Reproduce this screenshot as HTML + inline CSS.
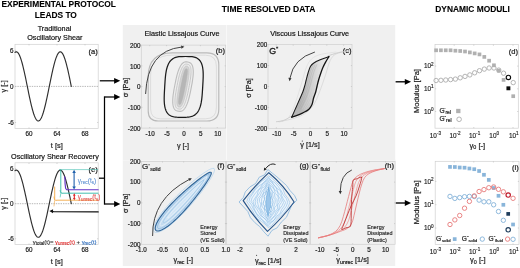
<!DOCTYPE html>
<html><head><meta charset="utf-8"><style>
html,body{margin:0;padding:0;background:#fff;width:520px;height:268px;overflow:hidden}
svg{display:block;font-family:"Liberation Sans", sans-serif;filter:blur(0.35px)}
</style></head><body>
<svg xmlns="http://www.w3.org/2000/svg" width="520" height="268" viewBox="0 0 520 268">
<rect x="0" y="0" width="520" height="268" fill="#ffffff"/>
<rect x="122.80" y="25.00" width="272.40" height="241.00" fill="#f0f0f0" stroke="none" stroke-width="1"/>
<line x1="226.40" y1="25.00" x2="226.40" y2="161.00" stroke="#fafafa" stroke-width="0.8"/>
<line x1="123.00" y1="160.30" x2="396.00" y2="160.30" stroke="#f6f6f6" stroke-width="0.9"/>
<text x="58.70" y="7.00" font-size="8.4" text-anchor="middle" fill="#000" font-weight="bold" stroke="#000" stroke-width="0.1">EXPERIMENTAL PROTOCOL</text>
<text x="55.80" y="17.60" font-size="8.4" text-anchor="middle" fill="#000" font-weight="bold" stroke="#000" stroke-width="0.1">LEADS TO</text>
<text x="268.60" y="12.40" font-size="8.5" text-anchor="middle" fill="#000" font-weight="bold" stroke="#000" stroke-width="0.1">TIME RESOLVED DATA</text>
<text x="472.50" y="12.20" font-size="8.4" text-anchor="middle" fill="#000" font-weight="bold" stroke="#000" stroke-width="0.1">DYNAMIC MODULI</text>
<text x="54.50" y="31.00" font-size="7.25" text-anchor="middle" fill="#111" font-weight="normal" stroke="#111" stroke-width="0.18">Traditional</text>
<text x="54.80" y="39.50" font-size="7.25" text-anchor="middle" fill="#111" font-weight="normal" stroke="#111" stroke-width="0.18">Oscillatory Shear</text>
<text x="55.00" y="158.60" font-size="7.25" text-anchor="middle" fill="#111" font-weight="normal" stroke="#111" stroke-width="0.18">Oscillatory Shear Recovery</text>
<text x="182.00" y="35.60" font-size="7.25" text-anchor="middle" fill="#111" font-weight="normal" stroke="#111" stroke-width="0.18">Elastic Lissajous Curve</text>
<text x="309.70" y="35.50" font-size="7.25" text-anchor="middle" fill="#111" font-weight="normal" stroke="#111" stroke-width="0.18">Viscous Lissajous Curve</text>
<rect x="15.00" y="44.30" width="83.20" height="84.20" fill="none" stroke="#cfcfcf" stroke-width="0.7"/>
<line x1="15.00" y1="86.40" x2="98.20" y2="86.40" stroke="#a0a0a0" stroke-width="0.75" stroke-dasharray="1.4,1.0"/>
<text x="13.50" y="52.51" font-size="6.3" text-anchor="end" fill="#1e1e1e" font-weight="normal" stroke="#1e1e1e" stroke-width="0.2">6</text>
<text x="13.50" y="88.60" font-size="6.3" text-anchor="end" fill="#1e1e1e" font-weight="normal" stroke="#1e1e1e" stroke-width="0.2">0</text>
<text x="13.80" y="124.69" font-size="6.3" text-anchor="end" fill="#1e1e1e" font-weight="normal" stroke="#1e1e1e" stroke-width="0.2">-6</text>
<text x="29.00" y="135.70" font-size="6.3" text-anchor="middle" fill="#1e1e1e" font-weight="normal" stroke="#1e1e1e" stroke-width="0.2">60</text>
<line x1="29.00" y1="128.50" x2="29.00" y2="127.40" stroke="#aaa" stroke-width="0.5"/>
<line x1="29.00" y1="44.30" x2="29.00" y2="45.40" stroke="#aaa" stroke-width="0.5"/>
<text x="57.00" y="135.70" font-size="6.3" text-anchor="middle" fill="#1e1e1e" font-weight="normal" stroke="#1e1e1e" stroke-width="0.2">64</text>
<line x1="57.00" y1="128.50" x2="57.00" y2="127.40" stroke="#aaa" stroke-width="0.5"/>
<line x1="57.00" y1="44.30" x2="57.00" y2="45.40" stroke="#aaa" stroke-width="0.5"/>
<text x="85.00" y="135.70" font-size="6.3" text-anchor="middle" fill="#1e1e1e" font-weight="normal" stroke="#1e1e1e" stroke-width="0.2">68</text>
<line x1="85.00" y1="128.50" x2="85.00" y2="127.40" stroke="#aaa" stroke-width="0.5"/>
<line x1="85.00" y1="44.30" x2="85.00" y2="45.40" stroke="#aaa" stroke-width="0.5"/>
<line x1="15.00" y1="50.31" x2="16.10" y2="50.31" stroke="#aaa" stroke-width="0.5"/>
<line x1="98.20" y1="50.31" x2="97.10" y2="50.31" stroke="#aaa" stroke-width="0.5"/>
<line x1="15.00" y1="122.49" x2="16.10" y2="122.49" stroke="#aaa" stroke-width="0.5"/>
<line x1="98.20" y1="122.49" x2="97.10" y2="122.49" stroke="#aaa" stroke-width="0.5"/>
<text x="0" y="0" font-size="7.3" text-anchor="middle" fill="#1e1e1e" stroke="#1e1e1e" stroke-width="0.22" transform="translate(6.13 86.40) rotate(-90)">γ [-]</text>
<text x="56.80" y="147.90" font-size="7.5" text-anchor="middle" fill="#1e1e1e" font-weight="normal" stroke="#1e1e1e" stroke-width="0.2">t [s]</text>
<text x="97.80" y="53.90" font-size="7.6" text-anchor="end" fill="#1a1a1a" font-weight="normal" stroke="#1a1a1a" stroke-width="0.2">(a)</text>
<path d="M15.00,52.42 L15.47,52.07 L15.94,51.87 L16.41,51.82 L16.88,51.93 L17.35,52.20 L17.81,52.62 L18.28,53.19 L18.75,53.90 L19.22,54.77 L19.69,55.78 L20.16,56.92 L20.63,58.20 L21.10,59.60 L21.57,61.12 L22.04,62.76 L22.50,64.50 L22.97,66.35 L23.44,68.28 L23.91,70.29 L24.38,72.37 L24.85,74.52 L25.32,76.72 L25.79,78.97 L26.26,81.25 L26.73,83.55 L27.19,85.86 L27.66,88.18 L28.13,90.48 L28.60,92.77 L29.07,95.04 L29.54,97.26 L30.01,99.43 L30.48,101.55 L30.95,103.59 L31.41,105.57 L31.88,107.45 L32.35,109.24 L32.82,110.93 L33.29,112.50 L33.76,113.96 L34.23,115.30 L34.70,116.51 L35.17,117.58 L35.64,118.51 L36.11,119.30 L36.57,119.94 L37.04,120.43 L37.51,120.76 L37.98,120.95 L38.45,120.97 L38.92,120.85 L39.39,120.56 L39.86,120.13 L40.33,119.54 L40.80,118.81 L41.26,117.93 L41.73,116.90 L42.20,115.74 L42.67,114.45 L43.14,113.04 L43.61,111.50 L44.08,109.85 L44.55,108.10 L45.02,106.25 L45.49,104.30 L45.95,102.28 L46.42,100.19 L46.89,98.04 L47.36,95.83 L47.83,93.58 L48.30,91.30 L48.77,89.00 L49.24,86.68 L49.71,84.37 L50.18,82.06 L50.64,79.77 L51.11,77.52 L51.58,75.30 L52.05,73.13 L52.52,71.02 L52.99,68.98 L53.46,67.02 L53.93,65.15 L54.40,63.37 L54.87,61.69 L55.33,60.13 L55.80,58.68 L56.27,57.36 L56.74,56.17 L57.21,55.11 L57.68,54.20 L58.15,53.42 L58.62,52.80 L59.09,52.33 L59.56,52.01 L60.02,51.84 L60.49,51.83 L60.96,51.98 L61.43,52.28 L61.90,52.73 L62.37,53.33 L62.84,54.08 L63.31,54.98 L63.78,56.02 L64.25,57.19 L64.71,58.50 L65.18,59.93 L65.65,61.48 L66.12,63.14 L66.59,64.90 L67.06,66.77 L67.53,68.72 L68.00,70.74 L68.47,72.84 L68.94,75.00 L69.40,77.22 L69.87,79.47 L70.34,81.75 L70.81,84.06 L71.28,86.37" stroke="#2e2e2e" stroke-width="1.15" fill="none" stroke-linejoin="round" stroke-linecap="round"/>
<rect x="15.00" y="162.80" width="83.20" height="81.80" fill="none" stroke="#cfcfcf" stroke-width="0.7"/>
<line x1="15.00" y1="203.70" x2="98.20" y2="203.70" stroke="#a0a0a0" stroke-width="0.75" stroke-dasharray="1.4,1.0"/>
<text x="13.50" y="170.84" font-size="6.3" text-anchor="end" fill="#1e1e1e" font-weight="normal" stroke="#1e1e1e" stroke-width="0.2">6</text>
<text x="13.50" y="205.90" font-size="6.3" text-anchor="end" fill="#1e1e1e" font-weight="normal" stroke="#1e1e1e" stroke-width="0.2">0</text>
<text x="13.80" y="240.96" font-size="6.3" text-anchor="end" fill="#1e1e1e" font-weight="normal" stroke="#1e1e1e" stroke-width="0.2">-6</text>
<text x="29.00" y="251.80" font-size="6.3" text-anchor="middle" fill="#1e1e1e" font-weight="normal" stroke="#1e1e1e" stroke-width="0.2">60</text>
<line x1="29.00" y1="244.60" x2="29.00" y2="243.50" stroke="#aaa" stroke-width="0.5"/>
<line x1="29.00" y1="162.80" x2="29.00" y2="163.90" stroke="#aaa" stroke-width="0.5"/>
<text x="57.00" y="251.80" font-size="6.3" text-anchor="middle" fill="#1e1e1e" font-weight="normal" stroke="#1e1e1e" stroke-width="0.2">64</text>
<line x1="57.00" y1="244.60" x2="57.00" y2="243.50" stroke="#aaa" stroke-width="0.5"/>
<line x1="57.00" y1="162.80" x2="57.00" y2="163.90" stroke="#aaa" stroke-width="0.5"/>
<text x="85.00" y="251.80" font-size="6.3" text-anchor="middle" fill="#1e1e1e" font-weight="normal" stroke="#1e1e1e" stroke-width="0.2">68</text>
<line x1="85.00" y1="244.60" x2="85.00" y2="243.50" stroke="#aaa" stroke-width="0.5"/>
<line x1="85.00" y1="162.80" x2="85.00" y2="163.90" stroke="#aaa" stroke-width="0.5"/>
<line x1="15.00" y1="168.64" x2="16.10" y2="168.64" stroke="#aaa" stroke-width="0.5"/>
<line x1="98.20" y1="168.64" x2="97.10" y2="168.64" stroke="#aaa" stroke-width="0.5"/>
<line x1="15.00" y1="238.76" x2="16.10" y2="238.76" stroke="#aaa" stroke-width="0.5"/>
<line x1="98.20" y1="238.76" x2="97.10" y2="238.76" stroke="#aaa" stroke-width="0.5"/>
<text x="0" y="0" font-size="7.3" text-anchor="middle" fill="#1e1e1e" stroke="#1e1e1e" stroke-width="0.22" transform="translate(6.13 203.70) rotate(-90)">γ [-]</text>
<text x="56.80" y="264.00" font-size="7.5" text-anchor="middle" fill="#1e1e1e" font-weight="normal" stroke="#1e1e1e" stroke-width="0.2">t [s]</text>
<text x="97.80" y="172.40" font-size="7.6" text-anchor="end" fill="#1a1a1a" font-weight="normal" stroke="#1a1a1a" stroke-width="0.2">(e)</text>
<path d="M15.00,170.69 L15.47,170.34 L15.94,170.15 L16.41,170.11 L16.88,170.21 L17.35,170.47 L17.81,170.88 L18.28,171.43 L18.75,172.13 L19.22,172.97 L19.69,173.95 L20.16,175.06 L20.63,176.30 L21.10,177.66 L21.57,179.15 L22.04,180.74 L22.50,182.43 L22.97,184.22 L23.44,186.09 L23.91,188.05 L24.38,190.07 L24.85,192.16 L25.32,194.30 L25.79,196.48 L26.26,198.69 L26.73,200.93 L27.19,203.18 L27.66,205.43 L28.13,207.67 L28.60,209.89 L29.07,212.09 L29.54,214.25 L30.01,216.36 L30.48,218.42 L30.95,220.40 L31.41,222.32 L31.88,224.15 L32.35,225.89 L32.82,227.53 L33.29,229.06 L33.76,230.48 L34.23,231.78 L34.70,232.95 L35.17,233.99 L35.64,234.89 L36.11,235.66 L36.57,236.28 L37.04,236.76 L37.51,237.08 L37.98,237.26 L38.45,237.29 L38.92,237.16 L39.39,236.89 L39.86,236.47 L40.33,235.90 L40.80,235.18 L41.26,234.33 L41.73,233.33 L42.20,232.21 L42.67,230.95 L43.14,229.58 L43.61,228.08 L44.08,226.48 L44.55,224.78 L45.02,222.98 L45.49,221.09 L45.95,219.13 L46.42,217.10 L46.89,215.01 L47.36,212.86 L47.83,210.68 L48.30,208.46 L48.77,206.22 L49.24,203.98 L49.71,201.73 L50.18,199.48 L50.64,197.26 L51.11,195.07 L51.58,192.92 L52.05,190.81 L52.52,188.76 L52.99,186.78 L53.46,184.87 L53.93,183.05 L54.40,181.33 L54.87,179.70 L55.33,178.18 L55.80,176.77 L56.27,175.49 L56.74,174.33 L57.21,173.30 L57.68,172.41 L58.15,171.66 L58.62,171.06 L59.09,170.60 L59.56,170.29 L60.02,170.13 L60.49,170.12 L60.96,170.26 L61.43,170.55 L61.90,170.99 L62.37,171.57 L62.84,172.30 L63.31,173.18 L63.78,174.18 L64.25,175.32 L64.71,176.59 L65.18,177.98 L65.65,179.49 L66.12,181.10 L66.59,182.82 L67.06,184.62 L67.53,186.52 L68.00,188.49 L68.47,190.53 L68.94,192.63 L69.40,194.78 L69.87,196.97 L70.34,199.19 L70.81,201.42 L71.28,203.67" stroke="#2e2e2e" stroke-width="1.15" fill="none" stroke-linejoin="round" stroke-linecap="round"/>
<line x1="59.00" y1="169.60" x2="98.20" y2="169.60" stroke="#5cc8bc" stroke-width="0.7"/>
<path d="M54.70,187.00 L54.70,199.20 L55.60,200.40 L57.00,200.20 L98.20,200.20" stroke="#f2a33a" stroke-width="0.85" fill="none" stroke-linejoin="round" stroke-linecap="round"/>
<path d="M53.90,197.00 L54.70,200.30 L54.00,206.00" stroke="#f2a33a" stroke-width="0.6" fill="none" stroke-linejoin="round" stroke-linecap="round"/>
<path d="M60.80,170.00 L60.80,191.80 L61.60,193.30 L63.00,193.20 L98.20,193.20" stroke="#22b5a0" stroke-width="0.85" fill="none" stroke-linejoin="round" stroke-linecap="round"/>
<path d="M60.10,190.50 L60.80,193.30 L60.20,197.00" stroke="#22b5a0" stroke-width="0.6" fill="none" stroke-linejoin="round" stroke-linecap="round"/>
<path d="M64.80,176.84 L65.10,184.00 L65.60,188.20 L66.60,189.70 L68.00,189.70 L98.20,189.70" stroke="#6432c8" stroke-width="1.15" fill="none" stroke-linejoin="round" stroke-linecap="round"/>
<path d="M51.50,211.30 L53.50,211.70 L98.20,211.90" stroke="#111" stroke-width="1.25" fill="none" stroke-linejoin="round" stroke-linecap="round"/>
<path d="M49.40,211.10 L53.07,209.25 L52.93,213.20 Z" fill="#111"/>
<line x1="74.10" y1="171.50" x2="74.10" y2="188.00" stroke="#2162ad" stroke-width="1.1"/>
<path d="M74.10,169.70 L75.86,172.90 L72.34,172.90 Z" fill="#2162ad"/>
<path d="M74.10,189.60 L72.34,186.40 L75.86,186.40 Z" fill="#2162ad"/>
<line x1="74.30" y1="194.50" x2="74.30" y2="199.00" stroke="#dd2020" stroke-width="1.1"/>
<path d="M74.30,193.30 L75.62,195.70 L72.98,195.70 Z" fill="#e02828"/>
<path d="M74.30,200.30 L72.98,197.90 L75.62,197.90 Z" fill="#e02828"/>
<text x="77.8" y="182.9" font-size="6.5" fill="#5b8fd0" stroke="#5b8fd0" stroke-width="0.08">γ<tspan font-size="4.8" dy="1.1">rec</tspan><tspan dy="-1.1">(t</tspan><tspan font-size="4.8" dy="1.1">s</tspan><tspan dy="-1.1">)</tspan></text>
<text x="77.8" y="199.4" font-size="6.3" fill="#e04848" stroke="#e04848" stroke-width="0.08">γ<tspan font-size="4.5" dy="1.1">unrec</tspan><tspan dy="-1.1">(t</tspan><tspan font-size="4.5" dy="1.1">s</tspan><tspan dy="-1.1">)</tspan></text>
<text x="32.8" y="244.0" font-size="5.95" fill="#262626" stroke="#262626" stroke-width="0.12">γ<tspan font-size="4.5" dy="1.1">total</tspan><tspan dy="-1.1">(t)=</tspan><tspan fill="#e02828" stroke="#e02828"> γ<tspan font-size="4.5" dy="1.1">unrec</tspan><tspan dy="-1.1">(t)</tspan></tspan><tspan> + </tspan><tspan fill="#2f6fbf" stroke="#2f6fbf">γ<tspan font-size="4.5" dy="1.1">rec</tspan><tspan dy="-1.1">(t)</tspan></tspan></text>
<line x1="99.80" y1="80.80" x2="115.00" y2="80.80" stroke="#000" stroke-width="1.25"/>
<path d="M120.30,80.80 L114.10,83.71 L114.10,77.89 Z" fill="#000"/>
<line x1="104.50" y1="97.00" x2="115.00" y2="97.00" stroke="#000" stroke-width="1.25"/>
<path d="M120.30,97.00 L114.10,99.91 L114.10,94.09 Z" fill="#000"/>
<line x1="104.50" y1="96.40" x2="104.50" y2="204.60" stroke="#000" stroke-width="1.25"/>
<line x1="99.00" y1="178.20" x2="104.50" y2="178.20" stroke="#000" stroke-width="1.25"/>
<line x1="104.50" y1="204.00" x2="115.00" y2="204.00" stroke="#000" stroke-width="1.25"/>
<path d="M120.30,204.00 L114.10,206.91 L114.10,201.09 Z" fill="#000"/>
<line x1="395.60" y1="81.80" x2="406.00" y2="81.80" stroke="#000" stroke-width="1.35"/>
<path d="M411.10,81.80 L404.80,84.70 L404.80,78.90 Z" fill="#000"/>
<line x1="395.60" y1="203.00" x2="406.00" y2="203.00" stroke="#000" stroke-width="1.35"/>
<path d="M411.10,203.00 L404.80,205.90 L404.80,200.10 Z" fill="#000"/>
<rect x="141.30" y="45.10" width="84.40" height="83.00" fill="none" stroke="#cfcfcf" stroke-width="0.7"/>
<text x="140.40" y="47.80" font-size="6.3" text-anchor="end" fill="#1e1e1e" font-weight="normal" stroke="#1e1e1e" stroke-width="0.2">200</text>
<text x="140.40" y="68.55" font-size="6.3" text-anchor="end" fill="#1e1e1e" font-weight="normal" stroke="#1e1e1e" stroke-width="0.2">100</text>
<text x="140.40" y="89.30" font-size="6.3" text-anchor="end" fill="#1e1e1e" font-weight="normal" stroke="#1e1e1e" stroke-width="0.2">0</text>
<text x="140.40" y="110.05" font-size="6.3" text-anchor="end" fill="#1e1e1e" font-weight="normal" stroke="#1e1e1e" stroke-width="0.2">-100</text>
<text x="140.40" y="130.80" font-size="6.3" text-anchor="end" fill="#1e1e1e" font-weight="normal" stroke="#1e1e1e" stroke-width="0.2">-200</text>
<line x1="141.30" y1="65.85" x2="142.40" y2="65.85" stroke="#b4b4b4" stroke-width="0.5"/>
<line x1="225.70" y1="65.85" x2="224.60" y2="65.85" stroke="#b4b4b4" stroke-width="0.5"/>
<line x1="141.30" y1="86.60" x2="142.40" y2="86.60" stroke="#b4b4b4" stroke-width="0.5"/>
<line x1="225.70" y1="86.60" x2="224.60" y2="86.60" stroke="#b4b4b4" stroke-width="0.5"/>
<line x1="141.30" y1="107.35" x2="142.40" y2="107.35" stroke="#b4b4b4" stroke-width="0.5"/>
<line x1="225.70" y1="107.35" x2="224.60" y2="107.35" stroke="#b4b4b4" stroke-width="0.5"/>
<text x="150.14" y="136.30" font-size="6.3" text-anchor="middle" fill="#1e1e1e" font-weight="normal" stroke="#1e1e1e" stroke-width="0.2">-10</text>
<text x="167.02" y="136.30" font-size="6.3" text-anchor="middle" fill="#1e1e1e" font-weight="normal" stroke="#1e1e1e" stroke-width="0.2">-5</text>
<text x="183.90" y="136.30" font-size="6.3" text-anchor="middle" fill="#1e1e1e" font-weight="normal" stroke="#1e1e1e" stroke-width="0.2">0</text>
<text x="200.78" y="136.30" font-size="6.3" text-anchor="middle" fill="#1e1e1e" font-weight="normal" stroke="#1e1e1e" stroke-width="0.2">5</text>
<text x="217.66" y="136.30" font-size="6.3" text-anchor="middle" fill="#1e1e1e" font-weight="normal" stroke="#1e1e1e" stroke-width="0.2">10</text>
<line x1="149.74" y1="128.10" x2="149.74" y2="127.00" stroke="#b4b4b4" stroke-width="0.5"/>
<line x1="149.74" y1="45.10" x2="149.74" y2="46.20" stroke="#b4b4b4" stroke-width="0.5"/>
<line x1="166.62" y1="128.10" x2="166.62" y2="127.00" stroke="#b4b4b4" stroke-width="0.5"/>
<line x1="166.62" y1="45.10" x2="166.62" y2="46.20" stroke="#b4b4b4" stroke-width="0.5"/>
<line x1="183.50" y1="128.10" x2="183.50" y2="127.00" stroke="#b4b4b4" stroke-width="0.5"/>
<line x1="183.50" y1="45.10" x2="183.50" y2="46.20" stroke="#b4b4b4" stroke-width="0.5"/>
<line x1="200.38" y1="128.10" x2="200.38" y2="127.00" stroke="#b4b4b4" stroke-width="0.5"/>
<line x1="200.38" y1="45.10" x2="200.38" y2="46.20" stroke="#b4b4b4" stroke-width="0.5"/>
<line x1="217.26" y1="128.10" x2="217.26" y2="127.00" stroke="#b4b4b4" stroke-width="0.5"/>
<line x1="217.26" y1="45.10" x2="217.26" y2="46.20" stroke="#b4b4b4" stroke-width="0.5"/>
<text x="0" y="0" font-size="7.3" text-anchor="middle" fill="#1e1e1e" stroke="#1e1e1e" stroke-width="0.22" transform="translate(127.73 87.40) rotate(-90)">σ [Pa]</text>
<text x="183.00" y="148.00" font-size="7.3" text-anchor="middle" fill="#1e1e1e" font-weight="normal" stroke="#1e1e1e" stroke-width="0.2">γ [-]</text>
<text x="225.00" y="53.20" font-size="7.6" text-anchor="end" fill="#1a1a1a" font-weight="normal" stroke="#1a1a1a" stroke-width="0.2">(b)</text>
<path d="M172.20,52.80 L206.80,52.80 Q218.80,52.80 218.80,64.80 L218.80,109.00 Q218.80,121.00 206.80,121.00 L158.20,121.00 Q148.20,121.00 148.20,111.00 L148.20,76.80 Q148.20,52.80 172.20,52.80 Z" stroke="#b9b9b9" stroke-width="1.15" fill="none"/>
<path d="M171.60,55.20 L205.40,55.20 Q216.40,55.20 216.40,66.20 L216.40,107.80 Q216.40,118.80 205.40,118.80 L160.60,118.80 Q150.60,118.80 150.60,108.80 L150.60,76.20 Q150.60,55.20 171.60,55.20 Z" stroke="#cfcfcf" stroke-width="0.6" fill="none"/>
<path d="M191.15,88.18 L190.56,91.17 L190.17,93.07 L189.81,94.69 L189.47,96.15 L189.13,97.49 L188.80,98.73 L188.47,99.90 L188.13,100.99 L187.79,102.02 L187.44,102.99 L187.09,103.90 L186.74,104.75 L186.38,105.55 L186.01,106.30 L185.64,107.00 L185.26,107.64 L184.87,108.23 L184.47,108.78 L184.07,109.27 L183.66,109.71 L183.24,110.10 L182.81,110.44 L182.37,110.73 L181.92,110.96 L181.45,111.14 L180.96,111.27 L180.44,111.35 L179.87,111.36 L179.23,111.31 L178.23,111.14 L177.24,110.92 L176.62,110.73 L176.11,110.50 L175.65,110.24 L175.24,109.94 L174.88,109.59 L174.54,109.20 L174.24,108.77 L173.97,108.30 L173.73,107.78 L173.51,107.22 L173.33,106.61 L173.16,105.96 L173.03,105.26 L172.92,104.52 L172.83,103.74 L172.77,102.91 L172.73,102.03 L172.72,101.10 L172.74,100.13 L172.78,99.10 L172.85,98.02 L172.95,96.88 L173.08,95.68 L173.24,94.40 L173.43,93.03 L173.66,91.55 L173.93,89.91 L174.28,88.00 L174.85,85.02 L175.44,82.03 L175.83,80.13 L176.19,78.51 L176.53,77.05 L176.87,75.71 L177.20,74.47 L177.53,73.30 L177.87,72.21 L178.21,71.18 L178.56,70.21 L178.91,69.30 L179.26,68.45 L179.62,67.65 L179.99,66.90 L180.36,66.20 L180.74,65.56 L181.13,64.97 L181.53,64.42 L181.93,63.93 L182.34,63.49 L182.76,63.10 L183.19,62.76 L183.63,62.47 L184.08,62.24 L184.55,62.06 L185.04,61.93 L185.56,61.85 L186.13,61.84 L186.77,61.89 L187.77,62.06 L188.76,62.28 L189.38,62.47 L189.89,62.70 L190.35,62.96 L190.76,63.26 L191.12,63.61 L191.46,64.00 L191.76,64.43 L192.03,64.90 L192.27,65.42 L192.49,65.98 L192.67,66.59 L192.84,67.24 L192.97,67.94 L193.08,68.68 L193.17,69.46 L193.23,70.29 L193.27,71.17 L193.28,72.10 L193.26,73.07 L193.22,74.10 L193.15,75.18 L193.05,76.32 L192.92,77.52 L192.76,78.80 L192.57,80.17 L192.34,81.65 L192.07,83.29 L191.72,85.20 Z" stroke="#bdbdbd" stroke-width="1.1" fill="#eeeeee" stroke-linejoin="round" stroke-linecap="round"/>
<path d="M188.89,87.74 L188.36,90.46 L188.00,92.20 L187.68,93.68 L187.38,95.02 L187.09,96.24 L186.80,97.38 L186.52,98.44 L186.23,99.44 L185.95,100.39 L185.66,101.27 L185.38,102.11 L185.09,102.90 L184.79,103.63 L184.50,104.32 L184.20,104.97 L183.90,105.56 L183.60,106.11 L183.29,106.62 L182.98,107.08 L182.66,107.49 L182.34,107.86 L182.02,108.18 L181.69,108.46 L181.35,108.69 L181.00,108.87 L180.64,109.00 L180.25,109.09 L179.84,109.12 L179.37,109.10 L178.65,108.98 L177.94,108.82 L177.49,108.67 L177.12,108.48 L176.80,108.26 L176.51,108.00 L176.26,107.70 L176.03,107.36 L175.82,106.98 L175.64,106.56 L175.48,106.10 L175.35,105.60 L175.23,105.05 L175.14,104.47 L175.06,103.85 L175.01,103.18 L174.97,102.47 L174.96,101.72 L174.96,100.93 L174.99,100.09 L175.03,99.21 L175.10,98.28 L175.19,97.30 L175.30,96.26 L175.44,95.17 L175.60,94.01 L175.79,92.76 L176.01,91.41 L176.27,89.92 L176.59,88.18 L177.11,85.46 L177.64,82.74 L178.00,81.00 L178.32,79.52 L178.62,78.18 L178.91,76.96 L179.20,75.82 L179.48,74.76 L179.77,73.76 L180.05,72.81 L180.34,71.93 L180.62,71.09 L180.91,70.30 L181.21,69.57 L181.50,68.88 L181.80,68.23 L182.10,67.64 L182.40,67.09 L182.71,66.58 L183.02,66.12 L183.34,65.71 L183.66,65.34 L183.98,65.02 L184.31,64.74 L184.65,64.51 L185.00,64.33 L185.36,64.20 L185.75,64.11 L186.16,64.08 L186.63,64.10 L187.35,64.22 L188.06,64.38 L188.51,64.53 L188.88,64.72 L189.20,64.94 L189.49,65.20 L189.74,65.50 L189.97,65.84 L190.18,66.22 L190.36,66.64 L190.52,67.10 L190.65,67.60 L190.77,68.15 L190.86,68.73 L190.94,69.35 L190.99,70.02 L191.03,70.73 L191.04,71.48 L191.04,72.27 L191.01,73.11 L190.97,73.99 L190.90,74.92 L190.81,75.90 L190.70,76.94 L190.56,78.03 L190.40,79.19 L190.21,80.44 L189.99,81.79 L189.73,83.28 L189.41,85.02 Z" stroke="#c4c4c4" stroke-width="0.9" fill="#eaeaea" stroke-linejoin="round" stroke-linecap="round"/>
<path d="M186.93,87.36 L186.44,89.84 L186.12,91.43 L185.84,92.78 L185.57,94.00 L185.32,95.12 L185.07,96.16 L184.83,97.14 L184.59,98.05 L184.36,98.92 L184.12,99.73 L183.89,100.50 L183.66,101.23 L183.43,101.90 L183.20,102.54 L182.97,103.14 L182.74,103.69 L182.51,104.20 L182.28,104.67 L182.04,105.10 L181.81,105.49 L181.58,105.84 L181.34,106.14 L181.11,106.41 L180.87,106.63 L180.62,106.81 L180.37,106.95 L180.11,107.04 L179.83,107.09 L179.51,107.09 L179.03,107.02 L178.56,106.91 L178.26,106.79 L178.02,106.64 L177.81,106.45 L177.63,106.23 L177.47,105.97 L177.33,105.67 L177.21,105.34 L177.11,104.97 L177.03,104.56 L176.96,104.11 L176.90,103.63 L176.86,103.10 L176.84,102.54 L176.84,101.94 L176.85,101.31 L176.87,100.63 L176.91,99.91 L176.97,99.16 L177.04,98.36 L177.13,97.51 L177.23,96.62 L177.35,95.68 L177.50,94.69 L177.66,93.63 L177.84,92.50 L178.05,91.27 L178.30,89.91 L178.59,88.32 L179.07,85.84 L179.56,83.36 L179.88,81.77 L180.16,80.42 L180.43,79.20 L180.68,78.08 L180.93,77.04 L181.17,76.06 L181.41,75.15 L181.64,74.28 L181.88,73.47 L182.11,72.70 L182.34,71.97 L182.57,71.30 L182.80,70.66 L183.03,70.06 L183.26,69.51 L183.49,69.00 L183.72,68.53 L183.96,68.10 L184.19,67.71 L184.42,67.36 L184.66,67.06 L184.89,66.79 L185.13,66.57 L185.38,66.39 L185.63,66.25 L185.89,66.16 L186.17,66.11 L186.49,66.11 L186.97,66.18 L187.44,66.29 L187.74,66.41 L187.98,66.56 L188.19,66.75 L188.37,66.97 L188.53,67.23 L188.67,67.53 L188.79,67.86 L188.89,68.23 L188.97,68.64 L189.04,69.09 L189.10,69.57 L189.14,70.10 L189.16,70.66 L189.16,71.26 L189.15,71.89 L189.13,72.57 L189.09,73.29 L189.03,74.04 L188.96,74.84 L188.87,75.69 L188.77,76.58 L188.65,77.52 L188.50,78.51 L188.34,79.57 L188.16,80.70 L187.95,81.93 L187.70,83.29 L187.41,84.88 Z" stroke="#c0c0c0" stroke-width="0.6" fill="#d3d3d3" stroke-linejoin="round" stroke-linecap="round"/>
<path d="M185.06,87.00 L184.64,89.17 L184.36,90.56 L184.12,91.75 L183.90,92.81 L183.69,93.79 L183.49,94.71 L183.29,95.57 L183.11,96.37 L182.92,97.13 L182.74,97.85 L182.57,98.53 L182.40,99.17 L182.23,99.77 L182.06,100.33 L181.90,100.86 L181.74,101.35 L181.58,101.81 L181.43,102.23 L181.27,102.62 L181.12,102.97 L180.97,103.28 L180.83,103.56 L180.68,103.80 L180.54,104.01 L180.40,104.18 L180.25,104.32 L180.11,104.41 L179.95,104.48 L179.78,104.50 L179.53,104.47 L179.28,104.40 L179.13,104.32 L179.01,104.20 L178.91,104.06 L178.83,103.88 L178.76,103.66 L178.70,103.42 L178.66,103.14 L178.63,102.82 L178.61,102.48 L178.60,102.10 L178.60,101.68 L178.62,101.23 L178.64,100.75 L178.68,100.24 L178.73,99.68 L178.78,99.10 L178.85,98.48 L178.93,97.82 L179.02,97.13 L179.13,96.39 L179.24,95.62 L179.37,94.80 L179.51,93.94 L179.67,93.01 L179.84,92.02 L180.03,90.95 L180.25,89.76 L180.52,88.37 L180.94,86.20 L181.36,84.03 L181.64,82.64 L181.88,81.45 L182.10,80.39 L182.31,79.41 L182.51,78.49 L182.71,77.63 L182.89,76.83 L183.08,76.07 L183.26,75.35 L183.43,74.67 L183.60,74.03 L183.77,73.43 L183.94,72.87 L184.10,72.34 L184.26,71.85 L184.42,71.39 L184.57,70.97 L184.73,70.58 L184.88,70.23 L185.03,69.92 L185.17,69.64 L185.32,69.40 L185.46,69.19 L185.60,69.02 L185.75,68.88 L185.89,68.79 L186.05,68.72 L186.22,68.70 L186.47,68.73 L186.72,68.80 L186.87,68.88 L186.99,69.00 L187.09,69.14 L187.17,69.32 L187.24,69.54 L187.30,69.78 L187.34,70.06 L187.37,70.38 L187.39,70.72 L187.40,71.10 L187.40,71.52 L187.38,71.97 L187.36,72.45 L187.32,72.96 L187.27,73.52 L187.22,74.10 L187.15,74.72 L187.07,75.38 L186.98,76.07 L186.87,76.81 L186.76,77.58 L186.63,78.40 L186.49,79.26 L186.33,80.19 L186.16,81.18 L185.97,82.25 L185.75,83.44 L185.48,84.83 Z" stroke="#b2b2b2" stroke-width="0.5" fill="#b6b6b6" stroke-linejoin="round" stroke-linecap="round"/>
<path d="M202.70,86.90 L202.35,92.53 L202.14,95.26 L201.93,97.43 L201.72,99.29 L201.48,100.94 L201.23,102.44 L200.95,103.81 L200.65,105.08 L200.33,106.26 L199.97,107.36 L199.59,108.38 L199.19,109.34 L198.75,110.23 L198.29,111.06 L197.79,111.84 L197.26,112.56 L196.70,113.22 L196.11,113.83 L195.48,114.39 L194.81,114.90 L194.09,115.36 L193.33,115.77 L192.52,116.13 L191.64,116.44 L190.69,116.70 L189.64,116.92 L188.47,117.09 L187.11,117.20 L185.40,117.28 L181.88,117.30 L178.36,117.28 L176.65,117.20 L175.31,117.09 L174.15,116.92 L173.14,116.70 L172.22,116.44 L171.38,116.13 L170.60,115.77 L169.89,115.36 L169.23,114.90 L168.62,114.39 L168.06,113.83 L167.54,113.22 L167.06,112.56 L166.62,111.84 L166.21,111.06 L165.85,110.23 L165.52,109.34 L165.23,108.38 L164.97,107.36 L164.75,106.26 L164.57,105.08 L164.42,103.81 L164.30,102.44 L164.23,100.94 L164.19,99.29 L164.20,97.43 L164.26,95.26 L164.38,92.53 L164.70,86.90 L165.05,81.27 L165.26,78.54 L165.47,76.37 L165.68,74.51 L165.92,72.86 L166.17,71.36 L166.45,69.99 L166.75,68.72 L167.07,67.54 L167.43,66.44 L167.81,65.42 L168.21,64.46 L168.65,63.57 L169.11,62.74 L169.61,61.96 L170.14,61.24 L170.70,60.58 L171.29,59.97 L171.92,59.41 L172.59,58.90 L173.31,58.44 L174.07,58.03 L174.88,57.67 L175.76,57.36 L176.71,57.10 L177.76,56.88 L178.93,56.71 L180.29,56.60 L182.00,56.52 L185.52,56.50 L189.04,56.52 L190.75,56.60 L192.09,56.71 L193.25,56.88 L194.26,57.10 L195.18,57.36 L196.02,57.67 L196.80,58.03 L197.51,58.44 L198.17,58.90 L198.78,59.41 L199.34,59.97 L199.86,60.58 L200.34,61.24 L200.78,61.96 L201.19,62.74 L201.55,63.57 L201.88,64.46 L202.17,65.42 L202.43,66.44 L202.65,67.54 L202.83,68.72 L202.98,69.99 L203.10,71.36 L203.17,72.86 L203.21,74.51 L203.20,76.37 L203.14,78.54 L203.02,81.27 Z" stroke="#1c1c1c" stroke-width="1.25" fill="none" stroke-linejoin="round" stroke-linecap="round"/>
<path d="M145.6,94.0 Q147.5,50.5 181.5,47.1" stroke="#444" stroke-width="1.0" fill="none"/>
<path d="M184.40,46.80 L181.35,48.67 L181.07,45.48 Z" fill="#333"/>
<rect x="268.00" y="44.60" width="84.00" height="83.80" fill="none" stroke="#cfcfcf" stroke-width="0.7"/>
<text x="267.30" y="47.30" font-size="6.3" text-anchor="end" fill="#1e1e1e" font-weight="normal" stroke="#1e1e1e" stroke-width="0.2">200</text>
<text x="267.30" y="68.25" font-size="6.3" text-anchor="end" fill="#1e1e1e" font-weight="normal" stroke="#1e1e1e" stroke-width="0.2">100</text>
<text x="267.30" y="89.20" font-size="6.3" text-anchor="end" fill="#1e1e1e" font-weight="normal" stroke="#1e1e1e" stroke-width="0.2">0</text>
<text x="267.30" y="110.15" font-size="6.3" text-anchor="end" fill="#1e1e1e" font-weight="normal" stroke="#1e1e1e" stroke-width="0.2">-100</text>
<text x="267.30" y="131.10" font-size="6.3" text-anchor="end" fill="#1e1e1e" font-weight="normal" stroke="#1e1e1e" stroke-width="0.2">-200</text>
<line x1="268.00" y1="65.55" x2="269.10" y2="65.55" stroke="#b4b4b4" stroke-width="0.5"/>
<line x1="352.00" y1="65.55" x2="350.90" y2="65.55" stroke="#b4b4b4" stroke-width="0.5"/>
<line x1="268.00" y1="86.50" x2="269.10" y2="86.50" stroke="#b4b4b4" stroke-width="0.5"/>
<line x1="352.00" y1="86.50" x2="350.90" y2="86.50" stroke="#b4b4b4" stroke-width="0.5"/>
<line x1="268.00" y1="107.45" x2="269.10" y2="107.45" stroke="#b4b4b4" stroke-width="0.5"/>
<line x1="352.00" y1="107.45" x2="350.90" y2="107.45" stroke="#b4b4b4" stroke-width="0.5"/>
<text x="276.80" y="136.30" font-size="6.3" text-anchor="middle" fill="#1e1e1e" font-weight="normal" stroke="#1e1e1e" stroke-width="0.2">-10</text>
<text x="293.60" y="136.30" font-size="6.3" text-anchor="middle" fill="#1e1e1e" font-weight="normal" stroke="#1e1e1e" stroke-width="0.2">-5</text>
<text x="310.40" y="136.30" font-size="6.3" text-anchor="middle" fill="#1e1e1e" font-weight="normal" stroke="#1e1e1e" stroke-width="0.2">0</text>
<text x="327.20" y="136.30" font-size="6.3" text-anchor="middle" fill="#1e1e1e" font-weight="normal" stroke="#1e1e1e" stroke-width="0.2">5</text>
<text x="344.00" y="136.30" font-size="6.3" text-anchor="middle" fill="#1e1e1e" font-weight="normal" stroke="#1e1e1e" stroke-width="0.2">10</text>
<line x1="276.40" y1="128.40" x2="276.40" y2="127.30" stroke="#b4b4b4" stroke-width="0.5"/>
<line x1="276.40" y1="44.60" x2="276.40" y2="45.70" stroke="#b4b4b4" stroke-width="0.5"/>
<line x1="293.20" y1="128.40" x2="293.20" y2="127.30" stroke="#b4b4b4" stroke-width="0.5"/>
<line x1="293.20" y1="44.60" x2="293.20" y2="45.70" stroke="#b4b4b4" stroke-width="0.5"/>
<line x1="310.00" y1="128.40" x2="310.00" y2="127.30" stroke="#b4b4b4" stroke-width="0.5"/>
<line x1="310.00" y1="44.60" x2="310.00" y2="45.70" stroke="#b4b4b4" stroke-width="0.5"/>
<line x1="326.80" y1="128.40" x2="326.80" y2="127.30" stroke="#b4b4b4" stroke-width="0.5"/>
<line x1="326.80" y1="44.60" x2="326.80" y2="45.70" stroke="#b4b4b4" stroke-width="0.5"/>
<line x1="343.60" y1="128.40" x2="343.60" y2="127.30" stroke="#b4b4b4" stroke-width="0.5"/>
<line x1="343.60" y1="44.60" x2="343.60" y2="45.70" stroke="#b4b4b4" stroke-width="0.5"/>
<text x="0" y="0" font-size="7.3" text-anchor="middle" fill="#1e1e1e" stroke="#1e1e1e" stroke-width="0.22" transform="translate(250.53 88.00) rotate(-90)">σ [Pa]</text>
<text x="310.00" y="147.40" font-size="7.3" text-anchor="middle" fill="#1e1e1e" font-weight="normal" stroke="#1e1e1e" stroke-width="0.2">γ [1/s]</text>
<circle cx="302.3" cy="141.0" r="0.55" fill="#1e1e1e"/>
<text x="351.50" y="52.60" font-size="7.6" text-anchor="end" fill="#1a1a1a" font-weight="normal" stroke="#1a1a1a" stroke-width="0.2">(c)</text>
<text x="269.3" y="53.7" font-size="8.8" fill="#1e1e1e" stroke="#1e1e1e" stroke-width="0.35">G<tspan font-size="5.5" dy="-3.0">"</tspan></text>
<path d="M276.50,121.70 C277.75,121.47 281.37,121.32 284.00,120.30 C286.63,119.28 290.92,116.38 292.30,115.60" stroke="#bdbdbd" stroke-width="0.7" fill="none" stroke-linejoin="round" stroke-linecap="round"/>
<path d="M328.20,55.80 C329.92,55.27 334.95,53.43 338.50,52.60 C342.05,51.77 347.67,51.10 349.50,50.80" stroke="#bdbdbd" stroke-width="0.7" fill="none" stroke-linejoin="round" stroke-linecap="round"/>
<path d="M348.00,51.00 C346.00,51.50 338.97,52.42 336.00,54.00 C333.03,55.58 331.95,57.00 330.20,60.50 C328.45,64.00 327.28,69.75 325.50,75.00 C323.72,80.25 321.50,87.00 319.50,92.00 C317.50,97.00 315.92,101.42 313.50,105.00 C311.08,108.58 308.25,111.28 305.00,113.50 C301.75,115.72 298.33,116.92 294.00,118.30 C289.67,119.68 281.50,121.22 279.00,121.80" stroke="#cfcfcf" stroke-width="0.6" fill="none" stroke-linejoin="round" stroke-linecap="round"/>
<path d="M280.00,121.80 C281.25,121.30 285.33,120.93 287.50,118.80 C289.67,116.67 291.25,112.97 293.00,109.00 C294.75,105.03 296.42,99.83 298.00,95.00 C299.58,90.17 301.08,84.67 302.50,80.00 C303.92,75.33 305.00,70.50 306.50,67.00 C308.00,63.50 309.25,61.07 311.50,59.00 C313.75,56.93 315.92,55.77 320.00,54.60 C324.08,53.43 333.33,52.43 336.00,52.00" stroke="#d6d6d6" stroke-width="0.5" fill="none" stroke-linejoin="round" stroke-linecap="round"/>
<defs><linearGradient id="cg" gradientUnits="userSpaceOnUse" x1="300" y1="0" x2="322" y2="0"><stop offset="0" stop-color="#b6b6b6"/><stop offset="0.5" stop-color="#cdcdcd"/><stop offset="1" stop-color="#e6e6e6"/></linearGradient></defs>
<path d="M291.70,117.20 C291.75,115.80 294.58,110.70 296.00,107.50 C297.42,104.30 299.07,100.58 300.20,98.00 C301.33,95.42 302.05,94.00 302.80,92.00 C303.55,90.00 304.13,88.00 304.70,86.00 C305.27,84.00 305.62,82.25 306.20,80.00 C306.78,77.75 307.50,74.75 308.20,72.50 C308.90,70.25 309.52,68.05 310.40,66.50 C311.28,64.95 311.87,64.32 313.50,63.20 C315.13,62.08 317.63,60.90 320.20,59.80 C322.77,58.70 328.00,56.22 328.90,56.60 C329.80,56.98 326.60,60.28 325.60,62.10 C324.60,63.92 323.67,65.77 322.90,67.50 C322.13,69.23 321.72,70.42 321.00,72.50 C320.28,74.58 319.25,77.75 318.60,80.00 C317.95,82.25 317.58,84.00 317.10,86.00 C316.62,88.00 316.28,90.00 315.70,92.00 C315.12,94.00 314.23,95.87 313.60,98.00 C312.97,100.13 312.72,102.90 311.90,104.80 C311.08,106.70 310.20,108.07 308.70,109.40 C307.20,110.73 305.07,111.72 302.90,112.80 C300.73,113.88 297.57,115.17 295.70,115.90 C293.83,116.63 291.65,118.60 291.70,117.20 Z" stroke="none" stroke-width="0" fill="url(#cg)" stroke-linejoin="round" stroke-linecap="round"/>
<path d="M297.57,107.91 C298.33,106.26 300.63,101.65 302.11,98.00 C303.60,94.35 305.15,90.25 306.47,86.00 C307.79,81.75 308.95,75.96 310.03,72.50 C311.11,69.04 312.46,66.46 312.94,65.26" stroke="#a6a6a6" stroke-width="0.35" fill="none" stroke-linejoin="round" stroke-linecap="round"/>
<path d="M299.14,108.33 C299.96,106.61 302.51,101.72 304.03,98.00 C305.55,94.28 306.94,90.25 308.24,86.00 C309.55,81.75 310.75,76.00 311.86,72.50 C312.96,69.00 314.38,66.26 314.89,65.01" stroke="#a6a6a6" stroke-width="0.35" fill="none" stroke-linejoin="round" stroke-linecap="round"/>
<path d="M300.71,108.74 C301.59,106.95 304.39,101.79 305.94,98.00 C307.49,94.21 308.72,90.25 310.01,86.00 C311.30,81.75 312.55,76.04 313.69,72.50 C314.82,68.96 316.30,66.06 316.83,64.77" stroke="#a6a6a6" stroke-width="0.35" fill="none" stroke-linejoin="round" stroke-linecap="round"/>
<path d="M302.29,109.16 C303.21,107.30 306.27,101.86 307.86,98.00 C309.44,94.14 310.51,90.25 311.79,86.00 C313.06,81.75 314.35,76.08 315.51,72.50 C316.68,68.92 318.23,65.86 318.77,64.53" stroke="#dcdcdc" stroke-width="0.35" fill="none" stroke-linejoin="round" stroke-linecap="round"/>
<path d="M303.86,109.57 C304.84,107.64 308.15,101.93 309.77,98.00 C311.39,94.07 312.30,90.25 313.56,86.00 C314.82,81.75 316.15,76.12 317.34,72.50 C318.54,68.88 320.15,65.65 320.71,64.29" stroke="#dcdcdc" stroke-width="0.35" fill="none" stroke-linejoin="round" stroke-linecap="round"/>
<path d="M305.43,109.99 C306.47,107.99 310.04,102.00 311.69,98.00 C313.34,94.00 314.08,90.25 315.33,86.00 C316.58,81.75 317.95,76.16 319.17,72.50 C320.39,68.84 322.08,65.45 322.66,64.04" stroke="#dcdcdc" stroke-width="0.35" fill="none" stroke-linejoin="round" stroke-linecap="round"/>
<path d="M291.70,117.20 C292.42,115.58 294.58,110.70 296.00,107.50 C297.42,104.30 299.07,100.58 300.20,98.00 C301.33,95.42 302.05,94.00 302.80,92.00 C303.55,90.00 304.13,88.00 304.70,86.00 C305.27,84.00 305.62,82.25 306.20,80.00 C306.78,77.75 307.50,74.75 308.20,72.50 C308.90,70.25 309.52,68.05 310.40,66.50 C311.28,64.95 311.87,64.32 313.50,63.20 C315.13,62.08 317.63,60.90 320.20,59.80 C322.77,58.70 327.45,57.13 328.90,56.60" stroke="#1a1a1a" stroke-width="1.05" fill="none" stroke-linejoin="round" stroke-linecap="round"/>
<path d="M328.90,56.60 C328.35,57.52 326.60,60.28 325.60,62.10 C324.60,63.92 323.67,65.77 322.90,67.50 C322.13,69.23 321.72,70.42 321.00,72.50 C320.28,74.58 319.25,77.75 318.60,80.00 C317.95,82.25 317.58,84.00 317.10,86.00 C316.62,88.00 316.28,90.00 315.70,92.00 C315.12,94.00 314.23,95.87 313.60,98.00 C312.97,100.13 312.72,102.90 311.90,104.80 C311.08,106.70 310.20,108.07 308.70,109.40 C307.20,110.73 305.07,111.72 302.90,112.80 C300.73,113.88 297.57,115.17 295.70,115.90 C293.83,116.63 292.37,116.98 291.70,117.20" stroke="#141414" stroke-width="1.3" fill="none" stroke-linejoin="round" stroke-linecap="round"/>
<path d="M314.9,52.0 Q293.5,58.5 290.0,78.0" stroke="#444" stroke-width="1.0" fill="none"/>
<path d="M289.60,81.20 L288.34,77.85 L291.53,78.18 Z" fill="#333"/>
<rect x="141.30" y="161.40" width="84.70" height="82.90" fill="none" stroke="#cfcfcf" stroke-width="0.7"/>
<rect x="226.00" y="161.40" width="84.10" height="82.90" fill="none" stroke="#cfcfcf" stroke-width="0.7"/>
<rect x="310.10" y="161.40" width="85.00" height="82.90" fill="none" stroke="#cfcfcf" stroke-width="0.7"/>
<text x="140.40" y="163.60" font-size="6.3" text-anchor="end" fill="#1e1e1e" font-weight="normal" stroke="#1e1e1e" stroke-width="0.2">200</text>
<text x="140.40" y="184.33" font-size="6.3" text-anchor="end" fill="#1e1e1e" font-weight="normal" stroke="#1e1e1e" stroke-width="0.2">100</text>
<text x="140.40" y="205.05" font-size="6.3" text-anchor="end" fill="#1e1e1e" font-weight="normal" stroke="#1e1e1e" stroke-width="0.2">0</text>
<text x="140.40" y="225.78" font-size="6.3" text-anchor="end" fill="#1e1e1e" font-weight="normal" stroke="#1e1e1e" stroke-width="0.2">-100</text>
<text x="140.40" y="246.50" font-size="6.3" text-anchor="end" fill="#1e1e1e" font-weight="normal" stroke="#1e1e1e" stroke-width="0.2">-200</text>
<line x1="141.30" y1="182.13" x2="142.40" y2="182.13" stroke="#b4b4b4" stroke-width="0.5"/>
<line x1="226.00" y1="182.13" x2="224.90" y2="182.13" stroke="#b4b4b4" stroke-width="0.5"/>
<line x1="141.30" y1="202.85" x2="142.40" y2="202.85" stroke="#b4b4b4" stroke-width="0.5"/>
<line x1="226.00" y1="202.85" x2="224.90" y2="202.85" stroke="#b4b4b4" stroke-width="0.5"/>
<line x1="141.30" y1="223.58" x2="142.40" y2="223.58" stroke="#b4b4b4" stroke-width="0.5"/>
<line x1="226.00" y1="223.58" x2="224.90" y2="223.58" stroke="#b4b4b4" stroke-width="0.5"/>
<line x1="226.00" y1="182.13" x2="227.10" y2="182.13" stroke="#b4b4b4" stroke-width="0.5"/>
<line x1="310.10" y1="182.13" x2="309.00" y2="182.13" stroke="#b4b4b4" stroke-width="0.5"/>
<line x1="226.00" y1="202.85" x2="227.10" y2="202.85" stroke="#b4b4b4" stroke-width="0.5"/>
<line x1="310.10" y1="202.85" x2="309.00" y2="202.85" stroke="#b4b4b4" stroke-width="0.5"/>
<line x1="226.00" y1="223.58" x2="227.10" y2="223.58" stroke="#b4b4b4" stroke-width="0.5"/>
<line x1="310.10" y1="223.58" x2="309.00" y2="223.58" stroke="#b4b4b4" stroke-width="0.5"/>
<line x1="310.10" y1="182.13" x2="311.20" y2="182.13" stroke="#b4b4b4" stroke-width="0.5"/>
<line x1="395.10" y1="182.13" x2="394.00" y2="182.13" stroke="#b4b4b4" stroke-width="0.5"/>
<line x1="310.10" y1="202.85" x2="311.20" y2="202.85" stroke="#b4b4b4" stroke-width="0.5"/>
<line x1="395.10" y1="202.85" x2="394.00" y2="202.85" stroke="#b4b4b4" stroke-width="0.5"/>
<line x1="310.10" y1="223.58" x2="311.20" y2="223.58" stroke="#b4b4b4" stroke-width="0.5"/>
<line x1="395.10" y1="223.58" x2="394.00" y2="223.58" stroke="#b4b4b4" stroke-width="0.5"/>
<text x="0" y="0" font-size="7.3" text-anchor="middle" fill="#1e1e1e" stroke="#1e1e1e" stroke-width="0.22" transform="translate(127.93 203.15) rotate(-90)">σ [Pa]</text>
<text x="141.30" y="251.70" font-size="6.3" text-anchor="middle" fill="#1e1e1e" font-weight="normal" stroke="#1e1e1e" stroke-width="0.2">-1.0</text>
<text x="162.48" y="251.70" font-size="6.3" text-anchor="middle" fill="#1e1e1e" font-weight="normal" stroke="#1e1e1e" stroke-width="0.2">-0.5</text>
<text x="183.65" y="251.70" font-size="6.3" text-anchor="middle" fill="#1e1e1e" font-weight="normal" stroke="#1e1e1e" stroke-width="0.2">0.0</text>
<text x="204.82" y="251.70" font-size="6.3" text-anchor="middle" fill="#1e1e1e" font-weight="normal" stroke="#1e1e1e" stroke-width="0.2">0.5</text>
<text x="226.00" y="251.70" font-size="6.3" text-anchor="middle" fill="#1e1e1e" font-weight="normal" stroke="#1e1e1e" stroke-width="0.2">1.0</text>
<line x1="162.48" y1="244.30" x2="162.48" y2="243.20" stroke="#b4b4b4" stroke-width="0.5"/>
<line x1="162.48" y1="161.40" x2="162.48" y2="162.50" stroke="#b4b4b4" stroke-width="0.5"/>
<line x1="183.65" y1="244.30" x2="183.65" y2="243.20" stroke="#b4b4b4" stroke-width="0.5"/>
<line x1="183.65" y1="161.40" x2="183.65" y2="162.50" stroke="#b4b4b4" stroke-width="0.5"/>
<line x1="204.82" y1="244.30" x2="204.82" y2="243.20" stroke="#b4b4b4" stroke-width="0.5"/>
<line x1="204.82" y1="161.40" x2="204.82" y2="162.50" stroke="#b4b4b4" stroke-width="0.5"/>
<text x="240.02" y="251.50" font-size="6.3" text-anchor="middle" fill="#1e1e1e" font-weight="normal" stroke="#1e1e1e" stroke-width="0.2">-2</text>
<text x="268.05" y="251.50" font-size="6.3" text-anchor="middle" fill="#1e1e1e" font-weight="normal" stroke="#1e1e1e" stroke-width="0.2">0</text>
<text x="296.08" y="251.50" font-size="6.3" text-anchor="middle" fill="#1e1e1e" font-weight="normal" stroke="#1e1e1e" stroke-width="0.2">2</text>
<line x1="240.02" y1="244.30" x2="240.02" y2="243.20" stroke="#b4b4b4" stroke-width="0.5"/>
<line x1="240.02" y1="161.40" x2="240.02" y2="162.50" stroke="#b4b4b4" stroke-width="0.5"/>
<line x1="268.05" y1="244.30" x2="268.05" y2="243.20" stroke="#b4b4b4" stroke-width="0.5"/>
<line x1="268.05" y1="161.40" x2="268.05" y2="162.50" stroke="#b4b4b4" stroke-width="0.5"/>
<line x1="296.08" y1="244.30" x2="296.08" y2="243.20" stroke="#b4b4b4" stroke-width="0.5"/>
<line x1="296.08" y1="161.40" x2="296.08" y2="162.50" stroke="#b4b4b4" stroke-width="0.5"/>
<text x="319.90" y="251.50" font-size="6.3" text-anchor="middle" fill="#1e1e1e" font-weight="normal" stroke="#1e1e1e" stroke-width="0.2">-10</text>
<text x="336.30" y="251.50" font-size="6.3" text-anchor="middle" fill="#1e1e1e" font-weight="normal" stroke="#1e1e1e" stroke-width="0.2">-5</text>
<text x="352.70" y="251.50" font-size="6.3" text-anchor="middle" fill="#1e1e1e" font-weight="normal" stroke="#1e1e1e" stroke-width="0.2">0</text>
<text x="369.10" y="251.50" font-size="6.3" text-anchor="middle" fill="#1e1e1e" font-weight="normal" stroke="#1e1e1e" stroke-width="0.2">5</text>
<text x="385.50" y="251.50" font-size="6.3" text-anchor="middle" fill="#1e1e1e" font-weight="normal" stroke="#1e1e1e" stroke-width="0.2">10</text>
<line x1="319.90" y1="244.30" x2="319.90" y2="243.20" stroke="#b4b4b4" stroke-width="0.5"/>
<line x1="319.90" y1="161.40" x2="319.90" y2="162.50" stroke="#b4b4b4" stroke-width="0.5"/>
<line x1="336.30" y1="244.30" x2="336.30" y2="243.20" stroke="#b4b4b4" stroke-width="0.5"/>
<line x1="336.30" y1="161.40" x2="336.30" y2="162.50" stroke="#b4b4b4" stroke-width="0.5"/>
<line x1="352.70" y1="244.30" x2="352.70" y2="243.20" stroke="#b4b4b4" stroke-width="0.5"/>
<line x1="352.70" y1="161.40" x2="352.70" y2="162.50" stroke="#b4b4b4" stroke-width="0.5"/>
<line x1="369.10" y1="244.30" x2="369.10" y2="243.20" stroke="#b4b4b4" stroke-width="0.5"/>
<line x1="369.10" y1="161.40" x2="369.10" y2="162.50" stroke="#b4b4b4" stroke-width="0.5"/>
<line x1="385.50" y1="244.30" x2="385.50" y2="243.20" stroke="#b4b4b4" stroke-width="0.5"/>
<line x1="385.50" y1="161.40" x2="385.50" y2="162.50" stroke="#b4b4b4" stroke-width="0.5"/>
<text x="183.30" y="262.30" font-size="7.3" text-anchor="middle" fill="#1e1e1e" stroke="#1e1e1e" stroke-width="0.22">γ<tspan font-size="5.2" dy="1.82">rec</tspan><tspan dy="-1.82"> [-]</tspan></text>
<text x="268.30" y="262.70" font-size="7.3" text-anchor="middle" fill="#1e1e1e" stroke="#1e1e1e" stroke-width="0.22">γ<tspan font-size="5.2" dy="1.82">rec</tspan><tspan dy="-1.82"> [1/s]</tspan></text>
<circle cx="256.6" cy="255.2" r="0.55" fill="#1e1e1e"/>
<text x="352.60" y="262.20" font-size="7.3" text-anchor="middle" fill="#1e1e1e" stroke="#1e1e1e" stroke-width="0.22">γ<tspan font-size="5.2" dy="1.82">unrec</tspan><tspan dy="-1.82"> [1/s]</tspan></text>
<circle cx="337.6" cy="255.0" r="0.55" fill="#1e1e1e"/>
<text x="224.50" y="168.00" font-size="7.6" text-anchor="end" fill="#1a1a1a" font-weight="normal" stroke="#1a1a1a" stroke-width="0.2">(f)</text>
<text x="308.80" y="168.00" font-size="7.6" text-anchor="end" fill="#1a1a1a" font-weight="normal" stroke="#1a1a1a" stroke-width="0.2">(g)</text>
<text x="394.00" y="168.00" font-size="7.6" text-anchor="end" fill="#1a1a1a" font-weight="normal" stroke="#1a1a1a" stroke-width="0.2">(h)</text>
<text x="142.00" y="169.00" font-size="8.0" fill="#1e1e1e" stroke="#1e1e1e" stroke-width="0.2">G<tspan font-size="5.76" dx="0.2" dy="-1.28">'</tspan><tspan font-size="5.0" dx="0.6" dy="3.53">solid</tspan></text>
<text x="226.90" y="169.00" font-size="8.0" fill="#1e1e1e" stroke="#1e1e1e" stroke-width="0.2">G<tspan font-size="5.76" dx="0.2" dy="-1.28">"</tspan><tspan font-size="5.0" dx="0.6" dy="3.53">solid</tspan></text>
<text x="311.50" y="169.00" font-size="8.0" fill="#1e1e1e" stroke="#1e1e1e" stroke-width="0.2">G<tspan font-size="5.76" dx="0.2" dy="-1.28">"</tspan><tspan font-size="5.0" dx="0.6" dy="3.53">fluid</tspan></text>
<text x="200.20" y="228.50" font-size="5.45" text-anchor="start" fill="#262626" font-weight="normal" stroke="#262626" stroke-width="0.15">Energy</text>
<text x="200.20" y="235.10" font-size="5.45" text-anchor="start" fill="#262626" font-weight="normal" stroke="#262626" stroke-width="0.15">Stored</text>
<text x="200.20" y="241.70" font-size="5.45" text-anchor="start" fill="#262626" font-weight="normal" stroke="#262626" stroke-width="0.15">(VE Solid)</text>
<text x="283.20" y="228.50" font-size="5.45" text-anchor="start" fill="#262626" font-weight="normal" stroke="#262626" stroke-width="0.15">Energy</text>
<text x="283.20" y="235.10" font-size="5.45" text-anchor="start" fill="#262626" font-weight="normal" stroke="#262626" stroke-width="0.15">Dissipated</text>
<text x="283.20" y="241.70" font-size="5.45" text-anchor="start" fill="#262626" font-weight="normal" stroke="#262626" stroke-width="0.15">(VE Solid)</text>
<text x="367.20" y="228.50" font-size="5.45" text-anchor="start" fill="#262626" font-weight="normal" stroke="#262626" stroke-width="0.15">Energy</text>
<text x="367.20" y="235.10" font-size="5.45" text-anchor="start" fill="#262626" font-weight="normal" stroke="#262626" stroke-width="0.15">Dissipated</text>
<text x="367.20" y="241.70" font-size="5.45" text-anchor="start" fill="#262626" font-weight="normal" stroke="#262626" stroke-width="0.15">(Plastic)</text>
<path d="M214.10,168.70 L214.36,169.09 L214.47,169.64 L214.44,170.33 L214.26,171.18 L213.94,172.17 L213.48,173.30 L212.88,174.57 L212.15,175.97 L211.29,177.50 L210.31,179.15 L209.21,180.90 L208.00,182.76 L206.67,184.71 L205.25,186.75 L203.73,188.86 L202.12,191.03 L200.43,193.25 L198.67,195.51 L196.84,197.80 L194.95,200.11 L193.02,202.41 L191.04,204.71 L189.03,206.99 L186.99,209.23 L184.94,211.43 L182.88,213.57 L180.83,215.64 L178.78,217.64 L176.75,219.54 L174.76,221.34 L172.80,223.03 L170.89,224.60 L169.03,226.04 L167.24,227.35 L165.52,228.52 L163.89,229.55 L162.34,230.42 L160.89,231.14 L159.55,231.70 L158.32,232.10 L157.22,232.34 L156.23,232.42 L155.38,232.34 L154.67,232.10 L154.10,231.70 L153.68,231.15 L153.40,230.45 L153.28,229.61 L153.31,228.62 L153.50,227.50 L153.84,226.26 L154.33,224.89 L154.98,223.41 L155.78,221.82 L156.72,220.14 L157.80,218.37 L159.02,216.51 L160.38,214.59 L161.85,212.60 L163.44,210.56 L165.14,208.48 L166.94,206.36 L168.83,204.22 L170.80,202.07 L172.84,199.91 L174.94,197.75 L177.08,195.61 L179.25,193.49 L181.45,191.40 L183.66,189.35 L185.87,187.36 L188.07,185.42 L190.24,183.55 L192.38,181.75 L194.47,180.04 L196.50,178.42 L198.47,176.90 L200.35,175.48 L202.15,174.18 L203.85,172.99 L205.44,171.93 L206.93,171.00 L208.29,170.20 L209.53,169.54 L210.64,169.03 L211.61,168.66 L212.45,168.44 L213.14,168.37 L213.69,168.46 Z" stroke="#a3cbed" stroke-width="0.6" fill="none" stroke-linejoin="round" stroke-linecap="round"/>
<path d="M211.08,172.43 L211.26,172.73 L211.30,173.17 L211.21,173.76 L210.98,174.48 L210.63,175.33 L210.15,176.32 L209.56,177.44 L208.84,178.69 L208.01,180.05 L207.07,181.53 L206.03,183.12 L204.88,184.80 L203.65,186.58 L202.32,188.44 L200.92,190.37 L199.44,192.36 L197.89,194.41 L196.27,196.50 L194.60,198.61 L192.89,200.75 L191.13,202.89 L189.33,205.03 L187.51,207.15 L185.67,209.24 L183.81,211.29 L181.95,213.29 L180.09,215.22 L178.25,217.09 L176.42,218.87 L174.61,220.55 L172.84,222.14 L171.11,223.61 L169.44,224.97 L167.82,226.20 L166.26,227.30 L164.78,228.26 L163.38,229.08 L162.07,229.76 L160.85,230.29 L159.74,230.68 L158.73,230.91 L157.84,230.99 L157.07,230.93 L156.43,230.72 L155.92,230.37 L155.54,229.87 L155.29,229.24 L155.19,228.47 L155.24,227.58 L155.42,226.56 L155.75,225.43 L156.22,224.19 L156.83,222.85 L157.59,221.41 L158.48,219.88 L159.50,218.28 L160.65,216.60 L161.92,214.86 L163.31,213.06 L164.80,211.21 L166.40,209.33 L168.09,207.41 L169.86,205.48 L171.70,203.53 L173.61,201.57 L175.57,199.62 L177.56,197.68 L179.59,195.75 L181.64,193.85 L183.69,191.99 L185.74,190.17 L187.77,188.40 L189.78,186.69 L191.75,185.04 L193.67,183.46 L195.53,181.97 L197.32,180.55 L199.03,179.23 L200.66,178.01 L202.19,176.89 L203.62,175.88 L204.95,174.98 L206.16,174.21 L207.25,173.55 L208.21,173.03 L209.05,172.64 L209.76,172.38 L210.33,172.26 L210.78,172.27 Z" stroke="#33689a" stroke-width="1.2" fill="#c3dbf0" stroke-linejoin="round" stroke-linecap="round"/>
<path d="M209.02,174.61 L209.14,174.85 L209.14,175.22 L209.01,175.72 L208.77,176.35 L208.40,177.10 L207.92,177.98 L207.33,178.98 L206.63,180.09 L205.82,181.32 L204.91,182.65 L203.91,184.08 L202.81,185.60 L201.63,187.21 L200.37,188.89 L199.03,190.64 L197.62,192.45 L196.16,194.31 L194.63,196.21 L193.06,198.14 L191.45,200.09 L189.79,202.05 L188.11,204.01 L186.41,205.96 L184.70,207.88 L182.97,209.77 L181.25,211.61 L179.53,213.41 L177.83,215.14 L176.14,216.79 L174.49,218.37 L172.88,219.85 L171.31,221.24 L169.79,222.53 L168.33,223.70 L166.93,224.76 L165.61,225.70 L164.36,226.51 L163.21,227.19 L162.14,227.74 L161.17,228.15 L160.31,228.43 L159.55,228.57 L158.91,228.58 L158.39,228.45 L157.98,228.19 L157.70,227.80 L157.55,227.29 L157.53,226.64 L157.64,225.88 L157.87,225.01 L158.24,224.02 L158.73,222.93 L159.36,221.74 L160.11,220.46 L160.98,219.09 L161.97,217.65 L163.07,216.13 L164.28,214.55 L165.59,212.91 L166.99,211.23 L168.48,209.50 L170.06,207.74 L171.70,205.95 L173.41,204.15 L175.17,202.34 L176.97,200.52 L178.81,198.71 L180.67,196.92 L182.54,195.14 L184.42,193.40 L186.28,191.69 L188.14,190.03 L189.96,188.41 L191.75,186.85 L193.49,185.36 L195.17,183.94 L196.79,182.60 L198.34,181.34 L199.80,180.17 L201.18,179.10 L202.47,178.13 L203.65,177.26 L204.73,176.50 L205.70,175.86 L206.55,175.34 L207.29,174.94 L207.91,174.66 L208.40,174.52 L208.77,174.50 Z" stroke="#6ea4d4" stroke-width="0.45" fill="none" stroke-linejoin="round" stroke-linecap="round"/>
<path d="M206.60,177.14 L206.68,177.33 L206.65,177.63 L206.50,178.06 L206.25,178.59 L205.88,179.25 L205.42,180.01 L204.85,180.88 L204.18,181.86 L203.42,182.94 L202.56,184.11 L201.62,185.38 L200.59,186.72 L199.49,188.15 L198.32,189.64 L197.08,191.20 L195.78,192.81 L194.42,194.47 L193.01,196.16 L191.57,197.89 L190.08,199.63 L188.57,201.39 L187.03,203.14 L185.47,204.89 L183.91,206.62 L182.34,208.33 L180.77,210.00 L179.22,211.62 L177.68,213.19 L176.17,214.70 L174.69,216.14 L173.25,217.50 L171.85,218.78 L170.50,219.97 L169.21,221.06 L167.98,222.06 L166.82,222.94 L165.74,223.72 L164.74,224.38 L163.82,224.92 L163.00,225.35 L162.27,225.65 L161.64,225.83 L161.12,225.90 L160.70,225.84 L160.40,225.66 L160.20,225.36 L160.13,224.95 L160.16,224.42 L160.32,223.79 L160.58,223.05 L160.97,222.20 L161.47,221.26 L162.08,220.23 L162.80,219.11 L163.63,217.91 L164.56,216.64 L165.59,215.29 L166.71,213.89 L167.92,212.43 L169.21,210.92 L170.57,209.37 L172.01,207.79 L173.50,206.17 L175.05,204.54 L176.64,202.90 L178.26,201.25 L179.91,199.60 L181.58,197.96 L183.26,196.34 L184.94,194.74 L186.61,193.17 L188.26,191.64 L189.89,190.16 L191.48,188.72 L193.03,187.34 L194.52,186.03 L195.96,184.78 L197.32,183.61 L198.62,182.52 L199.84,181.52 L200.97,180.61 L202.00,179.79 L202.95,179.08 L203.79,178.46 L204.53,177.96 L205.17,177.57 L205.69,177.29 L206.11,177.12 L206.41,177.07 Z" stroke="#eef5fb" stroke-width="0.7" fill="none" stroke-linejoin="round" stroke-linecap="round"/>
<path d="M203.50,180.40 L203.54,180.53 L203.48,180.77 L203.33,181.11 L203.08,181.55 L202.74,182.09 L202.30,182.72 L201.78,183.45 L201.18,184.27 L200.49,185.18 L199.72,186.17 L198.87,187.23 L197.96,188.37 L196.98,189.58 L195.93,190.85 L194.83,192.17 L193.68,193.54 L192.48,194.95 L191.24,196.40 L189.97,197.87 L188.66,199.36 L187.33,200.87 L185.99,202.37 L184.63,203.87 L183.27,205.36 L181.90,206.83 L180.55,208.27 L179.20,209.68 L177.88,211.05 L176.57,212.36 L175.30,213.62 L174.07,214.81 L172.88,215.94 L171.73,216.99 L170.64,217.96 L169.61,218.85 L168.64,219.65 L167.74,220.36 L166.92,220.97 L166.17,221.48 L165.50,221.89 L164.92,222.20 L164.42,222.41 L164.02,222.51 L163.71,222.51 L163.50,222.40 L163.39,222.19 L163.37,221.89 L163.45,221.48 L163.63,220.98 L163.91,220.38 L164.29,219.69 L164.77,218.92 L165.34,218.06 L166.00,217.13 L166.75,216.12 L167.58,215.05 L168.50,213.91 L169.50,212.72 L170.56,211.47 L171.70,210.18 L172.89,208.85 L174.14,207.49 L175.44,206.10 L176.78,204.69 L178.15,203.26 L179.55,201.83 L180.97,200.39 L182.41,198.96 L183.85,197.54 L185.28,196.14 L186.71,194.77 L188.12,193.42 L189.50,192.11 L190.85,190.85 L192.17,189.63 L193.43,188.47 L194.65,187.36 L195.81,186.32 L196.90,185.35 L197.92,184.46 L198.87,183.64 L199.74,182.91 L200.53,182.26 L201.24,181.71 L201.85,181.24 L202.37,180.87 L202.80,180.60 L203.13,180.43 L203.36,180.37 Z" stroke="#8bbbe3" stroke-width="0.45" fill="#d2e5f5" stroke-linejoin="round" stroke-linecap="round"/>
<path d="M199.36,184.74 L199.37,184.83 L199.29,184.99 L199.14,185.23 L198.92,185.55 L198.62,185.95 L198.25,186.43 L197.80,186.98 L197.29,187.60 L196.72,188.29 L196.08,189.05 L195.38,189.87 L194.63,190.75 L193.82,191.68 L192.97,192.66 L192.07,193.68 L191.13,194.74 L190.16,195.84 L189.15,196.97 L188.12,198.12 L187.07,199.28 L186.00,200.46 L184.91,201.64 L183.82,202.82 L182.73,203.99 L181.65,205.15 L180.57,206.29 L179.50,207.41 L178.45,208.49 L177.43,209.54 L176.43,210.55 L175.47,211.52 L174.55,212.43 L173.66,213.28 L172.82,214.08 L172.04,214.81 L171.30,215.48 L170.63,216.08 L170.01,216.60 L169.46,217.04 L168.98,217.41 L168.56,217.70 L168.22,217.91 L167.95,218.04 L167.76,218.09 L167.64,218.06 L167.60,217.94 L167.64,217.74 L167.75,217.47 L167.94,217.12 L168.21,216.69 L168.56,216.19 L168.98,215.61 L169.47,214.97 L170.03,214.27 L170.66,213.51 L171.36,212.68 L172.11,211.81 L172.92,210.88 L173.79,209.91 L174.70,208.90 L175.66,207.86 L176.66,206.79 L177.70,205.69 L178.76,204.57 L179.85,203.43 L180.95,202.29 L182.07,201.15 L183.19,200.00 L184.32,198.86 L185.44,197.74 L186.56,196.63 L187.65,195.54 L188.73,194.48 L189.77,193.45 L190.79,192.46 L191.77,191.52 L192.71,190.61 L193.60,189.76 L194.44,188.97 L195.22,188.23 L195.95,187.56 L196.61,186.95 L197.20,186.41 L197.73,185.94 L198.19,185.55 L198.58,185.23 L198.89,184.99 L199.12,184.83 L199.28,184.74 Z" stroke="#f2f7fc" stroke-width="0.5" fill="none" stroke-linejoin="round" stroke-linecap="round"/>
<path d="M152.6,236.0 Q152.0,198.8 189.0,179.6" stroke="#444" stroke-width="1.0" fill="none"/>
<path d="M191.80,178.20 L189.73,181.12 L188.22,178.29 Z" fill="#333"/>
<path d="M268.20,169.80 L272.42,173.24 L276.94,176.87 L281.61,181.05 L286.47,185.44 L290.15,190.74 L294.53,195.40 L296.80,200.20 L291.71,205.21 L289.34,210.80 L286.45,217.28 L281.25,222.15 L276.95,228.01 L272.01,230.35 L268.00,236.20 L263.80,231.73 L259.67,226.55 L254.87,222.65 L250.37,217.59 L247.85,211.51 L243.52,206.81 L239.00,202.00 L243.35,197.43 L245.27,191.87 L249.97,186.90 L255.64,183.53 L259.23,177.22 L264.12,175.03 Z" stroke="#7fb1dc" stroke-width="0.75" fill="none" stroke-linejoin="round" stroke-linecap="round"/>
<path d="M268.70,176.00 L271.97,178.12 L275.40,181.63 L279.17,185.15 L282.93,189.26 L284.95,194.40 L287.97,198.51 L289.80,202.50 L288.34,206.45 L285.73,210.73 L282.16,214.77 L278.20,218.11 L274.78,221.84 L271.44,225.76 L268.10,227.50 L265.02,224.02 L261.56,221.39 L257.37,218.84 L254.38,213.99 L251.80,209.42 L249.23,205.33 L246.80,201.50 L248.28,197.50 L251.78,193.58 L254.71,189.20 L258.09,184.90 L261.76,181.12 L265.45,178.71 Z" stroke="#92c0e6" stroke-width="0.62" fill="#edf5fc" stroke-linejoin="round" stroke-linecap="round"/>
<path d="M268.70,177.40 L271.46,180.70 L274.74,182.73 L278.02,186.25 L281.01,190.43 L283.26,194.86 L286.38,198.67 L287.70,202.50 L286.30,206.21 L283.53,210.01 L280.73,214.02 L277.26,217.30 L273.91,220.03 L270.98,223.38 L268.10,226.10 L265.21,223.62 L262.35,219.86 L258.54,217.71 L256.00,213.06 L253.37,209.01 L251.58,205.03 L248.90,201.50 L249.99,197.66 L252.76,193.67 L255.47,189.30 L259.11,185.82 L262.82,183.55 L265.80,180.27 Z" stroke="#92c0e6" stroke-width="0.62" fill="none" stroke-linejoin="round" stroke-linecap="round"/>
<path d="M268.70,178.80 L271.34,180.55 L273.78,184.77 L276.45,188.10 L280.35,190.45 L281.59,195.32 L283.32,199.09 L285.60,202.50 L284.16,205.94 L281.65,209.44 L279.87,213.85 L276.26,216.39 L273.74,220.58 L270.66,222.02 L268.10,224.70 L265.52,222.38 L262.53,220.23 L259.66,216.64 L256.44,213.25 L254.22,208.96 L253.43,204.82 L251.00,201.50 L252.06,197.90 L254.62,194.21 L257.54,190.68 L260.50,187.39 L263.07,183.25 L266.07,181.08 Z" stroke="#92c0e6" stroke-width="0.62" fill="none" stroke-linejoin="round" stroke-linecap="round"/>
<path d="M268.70,180.20 L271.02,181.88 L273.55,184.49 L276.21,187.65 L277.83,192.26 L280.63,195.41 L282.00,199.19 L283.50,202.50 L282.08,205.69 L279.70,208.81 L277.67,212.27 L275.43,215.82 L272.72,218.19 L270.37,221.00 L268.10,223.30 L265.97,220.09 L263.64,217.67 L260.66,215.78 L258.43,211.96 L256.16,208.38 L254.09,204.86 L253.10,201.50 L254.84,198.33 L257.07,195.12 L258.30,190.73 L261.17,187.66 L263.82,184.69 L266.37,182.27 Z" stroke="#92c0e6" stroke-width="0.62" fill="none" stroke-linejoin="round" stroke-linecap="round"/>
<path d="M268.70,181.60 L270.65,183.52 L272.83,185.78 L274.59,189.68 L277.61,191.73 L278.38,196.18 L280.57,199.31 L281.40,202.50 L279.46,205.26 L279.03,208.99 L276.29,211.53 L274.62,215.34 L272.29,217.96 L270.11,220.30 L268.10,221.90 L266.19,219.57 L263.90,217.91 L261.46,215.33 L260.14,210.88 L257.78,207.97 L255.56,204.75 L255.20,201.50 L256.05,198.35 L258.09,195.19 L260.22,192.04 L261.92,187.97 L264.73,186.80 L266.67,183.28 Z" stroke="#92c0e6" stroke-width="0.62" fill="none" stroke-linejoin="round" stroke-linecap="round"/>
<path d="M268.70,183.00 L270.26,185.38 L272.20,186.73 L274.10,189.51 L275.33,193.45 L277.80,195.97 L278.64,199.52 L279.30,202.50 L277.52,205.01 L277.66,208.81 L275.08,211.00 L273.31,213.77 L271.51,216.33 L269.77,218.71 L268.10,220.50 L266.56,217.74 L264.65,216.50 L262.62,214.18 L261.01,210.75 L258.98,207.82 L258.01,204.42 L257.30,201.50 L257.77,198.49 L260.10,195.89 L261.49,192.64 L263.29,189.67 L265.35,187.87 L266.96,184.17 Z" stroke="#92c0e6" stroke-width="0.62" fill="none" stroke-linejoin="round" stroke-linecap="round"/>
<path d="M268.70,184.40 L270.02,185.98 L271.23,189.10 L272.62,191.48 L274.41,193.57 L274.95,197.20 L277.01,199.65 L277.20,202.50 L276.87,205.26 L274.75,207.37 L274.16,210.96 L272.43,213.18 L270.93,215.60 L269.50,218.11 L268.10,219.10 L266.71,218.02 L265.43,214.90 L263.65,213.30 L262.08,210.48 L260.37,207.62 L260.92,203.94 L259.40,201.50 L259.46,198.59 L261.66,196.28 L263.06,193.67 L264.23,190.37 L265.75,187.69 L267.28,185.46 Z" stroke="#92c0e6" stroke-width="0.62" fill="none" stroke-linejoin="round" stroke-linecap="round"/>
<path d="M268.70,185.80 L269.68,187.42 L270.77,189.33 L272.08,191.12 L272.66,194.85 L273.36,197.65 L275.22,199.80 L275.10,202.50 L274.28,204.76 L273.56,207.33 L272.88,210.51 L271.26,211.71 L270.35,214.97 L269.13,216.01 L268.10,217.70 L267.18,215.11 L265.90,214.69 L264.86,211.94 L264.14,208.75 L262.24,207.11 L261.50,204.12 L261.50,201.50 L261.68,198.88 L262.73,196.17 L263.65,193.00 L265.55,192.30 L266.39,188.55 L267.63,187.29 Z" stroke="#92c0e6" stroke-width="0.62" fill="none" stroke-linejoin="round" stroke-linecap="round"/>
<path d="M268.70,187.20 L269.29,189.65 L269.95,191.46 L270.84,192.65 L271.33,195.59 L271.85,198.04 L272.73,200.18 L273.00,202.50 L272.54,204.63 L271.75,206.66 L271.18,209.14 L270.54,211.94 L269.51,212.47 L268.80,214.20 L268.10,216.30 L267.49,213.77 L266.77,212.38 L266.11,210.19 L264.74,209.51 L264.59,206.06 L263.03,204.13 L263.60,201.50 L264.53,199.58 L264.16,196.20 L265.42,194.45 L266.24,192.04 L267.13,190.22 L267.97,189.22 Z" stroke="#6aa7da" stroke-width="0.62" fill="none" stroke-linejoin="round" stroke-linecap="round"/>
<path d="M268.70,188.60 L269.04,190.13 L269.37,192.19 L269.90,193.13 L270.09,196.11 L270.61,197.94 L270.66,200.47 L270.90,202.50 L270.64,204.43 L270.69,207.44 L269.73,207.93 L269.39,210.31 L268.91,211.53 L268.50,213.23 L268.10,214.90 L267.69,214.25 L267.38,211.43 L266.89,210.16 L266.53,207.90 L265.85,206.27 L265.82,203.57 L265.70,201.50 L266.29,199.82 L266.34,197.32 L266.84,195.33 L267.25,192.78 L267.80,191.51 L268.27,190.62 Z" stroke="#6aa7da" stroke-width="0.62" fill="#9cc6ea" stroke-linejoin="round" stroke-linecap="round"/>
<path d="M268.8,172.7 Q283.9,185.2 294.1,202.0 Q282.3,218.0 267.5,231.4 Q253.8,217.2 243.2,200.6 Q254.9,185.6 268.8,172.7 Z" stroke="#27558a" stroke-width="1.15" fill="none" stroke-linejoin="round"/>
<path d="M275.5,164.5 Q270.5,162.3 265.6,168.6" stroke="#2a2a2a" stroke-width="1.0" fill="none"/>
<path d="M263.80,170.80 L264.29,167.48 L266.75,169.20 Z" fill="#1a1a1a"/>
<path d="M318.50,237.80 C320.08,237.40 325.17,236.45 328.00,235.40 C330.83,234.35 333.47,233.15 335.50,231.50 C337.53,229.85 338.90,228.00 340.20,225.50 C341.50,223.00 342.33,219.67 343.30,216.50 C344.27,213.33 345.12,209.83 346.00,206.50 C346.88,203.17 347.77,199.67 348.60,196.50 C349.43,193.33 350.23,190.15 351.00,187.50 C351.77,184.85 352.12,182.52 353.20,180.60 C354.28,178.68 355.62,177.33 357.50,176.00 C359.38,174.67 361.75,173.58 364.50,172.60 C367.25,171.62 370.68,170.77 374.00,170.10 C377.32,169.43 382.67,168.85 384.40,168.60" stroke="#e57474" stroke-width="0.75" fill="none" stroke-linejoin="round" stroke-linecap="round"/>
<path d="M318.50,237.80 C320.18,237.38 325.52,236.34 328.60,235.28 C331.68,234.22 334.70,232.94 337.00,231.44 C339.30,229.94 340.90,228.50 342.39,226.31 C343.88,224.12 344.88,221.28 345.91,218.30 C346.94,215.32 347.72,211.76 348.58,208.45 C349.44,205.14 350.27,201.67 351.09,198.45 C351.91,195.23 352.71,191.96 353.49,189.15 C354.27,186.34 354.76,183.73 355.78,181.62 C356.80,179.51 357.95,177.93 359.63,176.48 C361.31,175.03 363.36,173.93 365.85,172.90 C368.35,171.87 371.51,171.00 374.60,170.28 C377.69,169.56 382.77,168.88 384.40,168.60" stroke="#ee9393" stroke-width="0.75" fill="none" stroke-linejoin="round" stroke-linecap="round"/>
<path d="M318.50,237.80 C320.29,237.36 325.89,236.22 329.24,235.15 C332.59,234.08 336.02,232.71 338.60,231.38 C341.18,230.05 343.04,229.03 344.73,227.17 C346.41,225.31 347.59,222.99 348.69,220.22 C349.80,217.45 350.49,213.81 351.33,210.53 C352.17,207.25 352.94,203.80 353.75,200.53 C354.55,197.26 355.35,193.88 356.15,190.91 C356.94,187.94 357.57,185.03 358.53,182.71 C359.49,180.39 360.44,178.57 361.90,176.99 C363.36,175.41 365.07,174.31 367.29,173.22 C369.51,172.13 372.39,171.24 375.24,170.47 C378.09,169.70 382.87,168.91 384.40,168.60" stroke="#ee9393" stroke-width="0.75" fill="none" stroke-linejoin="round" stroke-linecap="round"/>
<path d="M318.50,237.80 C320.42,237.33 326.33,236.08 330.00,235.00 C333.67,233.92 337.58,232.43 340.50,231.30 C343.42,230.17 345.58,229.67 347.50,228.20 C349.42,226.73 350.82,225.03 352.00,222.50 C353.18,219.97 353.78,216.25 354.60,213.00 C355.42,209.75 356.12,206.33 356.90,203.00 C357.68,199.67 358.48,196.17 359.30,193.00 C360.12,189.83 360.92,186.57 361.80,184.00 C362.68,181.43 363.40,179.33 364.60,177.60 C365.80,175.87 367.10,174.75 369.00,173.60 C370.90,172.45 373.43,171.53 376.00,170.70 C378.57,169.87 383.00,168.95 384.40,168.60" stroke="#e57474" stroke-width="0.75" fill="none" stroke-linejoin="round" stroke-linecap="round"/>
<path d="M361.70,177.30 C362.03,178.53 360.45,182.88 359.50,186.00 C358.55,189.12 357.33,192.83 356.00,196.00 C354.67,199.17 353.00,201.67 351.50,205.00 C350.00,208.33 348.33,212.67 347.00,216.00 C345.67,219.33 344.37,222.75 343.50,225.00 C342.63,227.25 341.38,229.03 341.80,229.50 C342.22,229.97 344.55,228.38 346.00,227.80 C347.45,227.22 349.63,227.97 350.50,226.00 C351.37,224.03 351.07,219.50 351.20,216.00 C351.33,212.50 351.17,208.67 351.30,205.00 C351.43,201.33 351.75,197.17 352.00,194.00 C352.25,190.83 352.60,188.30 352.80,186.00 C353.00,183.70 352.42,181.43 353.20,180.20 C353.98,178.97 356.08,179.08 357.50,178.60 C358.92,178.12 361.37,176.07 361.70,177.30 Z" stroke="#bf3535" stroke-width="0.9" fill="none" stroke-linejoin="round" stroke-linecap="round"/>
<path d="M351.8,170.0 Q340.5,174.5 340.3,191.0" stroke="#444" stroke-width="1.0" fill="none"/>
<path d="M340.30,194.20 L338.70,191.00 L341.90,191.00 Z" fill="#333"/>
<rect x="435.00" y="44.60" width="83.30" height="83.60" fill="#ffffff" stroke="none" stroke-width="1"/>
<rect x="435.00" y="44.60" width="83.30" height="83.60" fill="none" stroke="#cfcfcf" stroke-width="0.7"/>
<text x="435.40" y="137.90" font-size="6.4" text-anchor="middle" fill="#1e1e1e" stroke="#1e1e1e" stroke-width="0.15">10<tspan font-size="4.61" dy="-2.69">-3</tspan></text>
<text x="455.00" y="137.90" font-size="6.4" text-anchor="middle" fill="#1e1e1e" stroke="#1e1e1e" stroke-width="0.15">10<tspan font-size="4.61" dy="-2.69">-2</tspan></text>
<line x1="454.20" y1="128.20" x2="454.20" y2="127.00" stroke="#b0b0b0" stroke-width="0.5"/>
<line x1="454.20" y1="44.60" x2="454.20" y2="45.80" stroke="#b0b0b0" stroke-width="0.5"/>
<text x="474.60" y="137.90" font-size="6.4" text-anchor="middle" fill="#1e1e1e" stroke="#1e1e1e" stroke-width="0.15">10<tspan font-size="4.61" dy="-2.69">-1</tspan></text>
<line x1="473.80" y1="128.20" x2="473.80" y2="127.00" stroke="#b0b0b0" stroke-width="0.5"/>
<line x1="473.80" y1="44.60" x2="473.80" y2="45.80" stroke="#b0b0b0" stroke-width="0.5"/>
<text x="494.20" y="137.90" font-size="6.4" text-anchor="middle" fill="#1e1e1e" stroke="#1e1e1e" stroke-width="0.15">10<tspan font-size="4.61" dy="-2.69">0</tspan></text>
<line x1="493.40" y1="128.20" x2="493.40" y2="127.00" stroke="#b0b0b0" stroke-width="0.5"/>
<line x1="493.40" y1="44.60" x2="493.40" y2="45.80" stroke="#b0b0b0" stroke-width="0.5"/>
<text x="513.80" y="137.90" font-size="6.4" text-anchor="middle" fill="#1e1e1e" stroke="#1e1e1e" stroke-width="0.15">10<tspan font-size="4.61" dy="-2.69">1</tspan></text>
<line x1="513.00" y1="128.20" x2="513.00" y2="127.00" stroke="#b0b0b0" stroke-width="0.5"/>
<line x1="513.00" y1="44.60" x2="513.00" y2="45.80" stroke="#b0b0b0" stroke-width="0.5"/>
<text x="433.60" y="113.70" font-size="6.4" text-anchor="end" fill="#1e1e1e" stroke="#1e1e1e" stroke-width="0.15">10<tspan font-size="4.61" dy="-2.69">0</tspan></text>
<line x1="435.00" y1="111.50" x2="436.20" y2="111.50" stroke="#b0b0b0" stroke-width="0.5"/>
<line x1="518.30" y1="111.50" x2="517.10" y2="111.50" stroke="#b0b0b0" stroke-width="0.5"/>
<text x="433.60" y="91.00" font-size="6.4" text-anchor="end" fill="#1e1e1e" stroke="#1e1e1e" stroke-width="0.15">10<tspan font-size="4.61" dy="-2.69">1</tspan></text>
<line x1="435.00" y1="88.80" x2="436.20" y2="88.80" stroke="#b0b0b0" stroke-width="0.5"/>
<line x1="518.30" y1="88.80" x2="517.10" y2="88.80" stroke="#b0b0b0" stroke-width="0.5"/>
<text x="433.60" y="68.30" font-size="6.4" text-anchor="end" fill="#1e1e1e" stroke="#1e1e1e" stroke-width="0.15">10<tspan font-size="4.61" dy="-2.69">2</tspan></text>
<line x1="435.00" y1="66.10" x2="436.20" y2="66.10" stroke="#b0b0b0" stroke-width="0.5"/>
<line x1="518.30" y1="66.10" x2="517.10" y2="66.10" stroke="#b0b0b0" stroke-width="0.5"/>
<text x="518.10" y="54.30" font-size="7.6" text-anchor="end" fill="#1a1a1a" font-weight="normal" stroke="#1a1a1a" stroke-width="0.2">(d)</text>
<text x="0" y="0" font-size="7.5" text-anchor="middle" fill="#1e1e1e" stroke="#1e1e1e" stroke-width="0.22" transform="translate(419.20 91.00) rotate(-90)">Modulus [Pa]</text>
<text x="477.30" y="147.60" font-size="7.6" text-anchor="middle" fill="#1e1e1e" stroke="#1e1e1e" stroke-width="0.22">γ<tspan font-size="5.4" dy="1.89">0</tspan><tspan dy="-1.89"> [-]</tspan></text>
<rect x="434.25" y="48.45" width="3.70" height="3.70" fill="#b0b0b0" stroke="none" stroke-width="1"/>
<rect x="439.07" y="48.45" width="3.70" height="3.70" fill="#b0b0b0" stroke="none" stroke-width="1"/>
<rect x="443.89" y="48.45" width="3.70" height="3.70" fill="#b0b0b0" stroke="none" stroke-width="1"/>
<rect x="448.71" y="48.45" width="3.70" height="3.70" fill="#b0b0b0" stroke="none" stroke-width="1"/>
<rect x="453.53" y="48.85" width="3.70" height="3.70" fill="#b0b0b0" stroke="none" stroke-width="1"/>
<rect x="458.35" y="49.15" width="3.70" height="3.70" fill="#b0b0b0" stroke="none" stroke-width="1"/>
<rect x="463.17" y="49.65" width="3.70" height="3.70" fill="#b0b0b0" stroke="none" stroke-width="1"/>
<rect x="467.99" y="50.55" width="3.70" height="3.70" fill="#b0b0b0" stroke="none" stroke-width="1"/>
<rect x="472.81" y="51.55" width="3.70" height="3.70" fill="#b0b0b0" stroke="none" stroke-width="1"/>
<rect x="477.63" y="52.55" width="3.70" height="3.70" fill="#b0b0b0" stroke="none" stroke-width="1"/>
<rect x="482.45" y="55.05" width="3.70" height="3.70" fill="#b0b0b0" stroke="none" stroke-width="1"/>
<rect x="487.27" y="58.85" width="3.70" height="3.70" fill="#b0b0b0" stroke="none" stroke-width="1"/>
<rect x="492.09" y="63.45" width="3.70" height="3.70" fill="#b0b0b0" stroke="none" stroke-width="1"/>
<rect x="496.91" y="68.85" width="3.70" height="3.70" fill="#b0b0b0" stroke="none" stroke-width="1"/>
<rect x="501.73" y="78.05" width="3.70" height="3.70" fill="#b0b0b0" stroke="none" stroke-width="1"/>
<rect x="506.45" y="86.35" width="3.90" height="3.90" fill="#0c0c0c" stroke="none" stroke-width="1"/>
<rect x="511.37" y="94.35" width="3.70" height="3.70" fill="#b0b0b0" stroke="none" stroke-width="1"/>
<circle cx="436.10" cy="80.50" r="2.20" fill="none" stroke="#b0b0b0" stroke-width="0.95"/>
<circle cx="440.92" cy="80.30" r="2.20" fill="none" stroke="#b0b0b0" stroke-width="0.95"/>
<circle cx="445.74" cy="80.00" r="2.20" fill="none" stroke="#b0b0b0" stroke-width="0.95"/>
<circle cx="450.56" cy="79.60" r="2.20" fill="none" stroke="#b0b0b0" stroke-width="0.95"/>
<circle cx="455.38" cy="79.10" r="2.20" fill="none" stroke="#b0b0b0" stroke-width="0.95"/>
<circle cx="460.20" cy="77.80" r="2.20" fill="none" stroke="#b0b0b0" stroke-width="0.95"/>
<circle cx="465.02" cy="76.40" r="2.20" fill="none" stroke="#b0b0b0" stroke-width="0.95"/>
<circle cx="469.84" cy="74.90" r="2.20" fill="none" stroke="#b0b0b0" stroke-width="0.95"/>
<circle cx="474.66" cy="72.80" r="2.20" fill="none" stroke="#b0b0b0" stroke-width="0.95"/>
<circle cx="479.48" cy="70.70" r="2.20" fill="none" stroke="#b0b0b0" stroke-width="0.95"/>
<circle cx="484.30" cy="69.10" r="2.20" fill="none" stroke="#b0b0b0" stroke-width="0.95"/>
<circle cx="489.12" cy="68.00" r="2.20" fill="none" stroke="#b0b0b0" stroke-width="0.95"/>
<circle cx="493.94" cy="68.00" r="2.20" fill="none" stroke="#b0b0b0" stroke-width="0.95"/>
<circle cx="498.76" cy="70.10" r="2.20" fill="none" stroke="#b0b0b0" stroke-width="0.95"/>
<circle cx="503.58" cy="73.20" r="2.20" fill="none" stroke="#b0b0b0" stroke-width="0.95"/>
<circle cx="508.40" cy="77.40" r="2.20" fill="none" stroke="#0c0c0c" stroke-width="1.15"/>
<circle cx="513.22" cy="82.60" r="2.20" fill="none" stroke="#b0b0b0" stroke-width="0.95"/>
<text x="439.4" y="112.9" font-size="6.6" fill="#1e1e1e" stroke="#1e1e1e" stroke-width="0.2">G<tspan font-size="4.4" dy="-2.4">'</tspan><tspan font-size="4.9" dy="3.9">rel</tspan></text>
<text x="439.4" y="120.9" font-size="6.6" fill="#1e1e1e" stroke="#1e1e1e" stroke-width="0.2">G<tspan font-size="4.4" dy="-2.4">"</tspan><tspan font-size="4.9" dy="3.9">rel</tspan></text>
<rect x="456.15" y="108.85" width="4.30" height="4.30" fill="#b0b0b0" stroke="none" stroke-width="1"/>
<circle cx="459.10" cy="119.30" r="2.30" fill="none" stroke="#b0b0b0" stroke-width="0.95"/>
<rect x="435.20" y="161.30" width="83.80" height="83.30" fill="#ffffff" stroke="none" stroke-width="1"/>
<rect x="435.20" y="161.30" width="83.80" height="83.30" fill="none" stroke="#cfcfcf" stroke-width="0.7"/>
<text x="435.40" y="253.70" font-size="6.4" text-anchor="middle" fill="#1e1e1e" stroke="#1e1e1e" stroke-width="0.15">10<tspan font-size="4.61" dy="-2.69">-3</tspan></text>
<text x="455.00" y="253.70" font-size="6.4" text-anchor="middle" fill="#1e1e1e" stroke="#1e1e1e" stroke-width="0.15">10<tspan font-size="4.61" dy="-2.69">-2</tspan></text>
<line x1="454.20" y1="244.60" x2="454.20" y2="243.40" stroke="#b0b0b0" stroke-width="0.5"/>
<line x1="454.20" y1="161.30" x2="454.20" y2="162.50" stroke="#b0b0b0" stroke-width="0.5"/>
<text x="474.60" y="253.70" font-size="6.4" text-anchor="middle" fill="#1e1e1e" stroke="#1e1e1e" stroke-width="0.15">10<tspan font-size="4.61" dy="-2.69">-1</tspan></text>
<line x1="473.80" y1="244.60" x2="473.80" y2="243.40" stroke="#b0b0b0" stroke-width="0.5"/>
<line x1="473.80" y1="161.30" x2="473.80" y2="162.50" stroke="#b0b0b0" stroke-width="0.5"/>
<text x="494.20" y="253.70" font-size="6.4" text-anchor="middle" fill="#1e1e1e" stroke="#1e1e1e" stroke-width="0.15">10<tspan font-size="4.61" dy="-2.69">0</tspan></text>
<line x1="493.40" y1="244.60" x2="493.40" y2="243.40" stroke="#b0b0b0" stroke-width="0.5"/>
<line x1="493.40" y1="161.30" x2="493.40" y2="162.50" stroke="#b0b0b0" stroke-width="0.5"/>
<text x="513.80" y="253.70" font-size="6.4" text-anchor="middle" fill="#1e1e1e" stroke="#1e1e1e" stroke-width="0.15">10<tspan font-size="4.61" dy="-2.69">1</tspan></text>
<line x1="513.00" y1="244.60" x2="513.00" y2="243.40" stroke="#b0b0b0" stroke-width="0.5"/>
<line x1="513.00" y1="161.30" x2="513.00" y2="162.50" stroke="#b0b0b0" stroke-width="0.5"/>
<text x="433.60" y="230.20" font-size="6.4" text-anchor="end" fill="#1e1e1e" stroke="#1e1e1e" stroke-width="0.15">10<tspan font-size="4.61" dy="-2.69">0</tspan></text>
<line x1="435.20" y1="228.00" x2="436.40" y2="228.00" stroke="#b0b0b0" stroke-width="0.5"/>
<line x1="519.00" y1="228.00" x2="517.80" y2="228.00" stroke="#b0b0b0" stroke-width="0.5"/>
<text x="433.60" y="206.90" font-size="6.4" text-anchor="end" fill="#1e1e1e" stroke="#1e1e1e" stroke-width="0.15">10<tspan font-size="4.61" dy="-2.69">1</tspan></text>
<line x1="435.20" y1="204.70" x2="436.40" y2="204.70" stroke="#b0b0b0" stroke-width="0.5"/>
<line x1="519.00" y1="204.70" x2="517.80" y2="204.70" stroke="#b0b0b0" stroke-width="0.5"/>
<text x="433.60" y="183.60" font-size="6.4" text-anchor="end" fill="#1e1e1e" stroke="#1e1e1e" stroke-width="0.15">10<tspan font-size="4.61" dy="-2.69">2</tspan></text>
<line x1="435.20" y1="181.40" x2="436.40" y2="181.40" stroke="#b0b0b0" stroke-width="0.5"/>
<line x1="519.00" y1="181.40" x2="517.80" y2="181.40" stroke="#b0b0b0" stroke-width="0.5"/>
<text x="518.80" y="169.60" font-size="7.6" text-anchor="end" fill="#1a1a1a" font-weight="normal" stroke="#1a1a1a" stroke-width="0.2">(i)</text>
<text x="0" y="0" font-size="7.5" text-anchor="middle" fill="#1e1e1e" stroke="#1e1e1e" stroke-width="0.22" transform="translate(419.10 202.40) rotate(-90)">Modulus [Pa]</text>
<text x="477.80" y="262.00" font-size="7.6" text-anchor="middle" fill="#1e1e1e" stroke="#1e1e1e" stroke-width="0.22">γ<tspan font-size="5.4" dy="1.89">0</tspan><tspan dy="-1.89"> [-]</tspan></text>
<rect x="448.15" y="165.05" width="3.70" height="3.70" fill="#89b5da" stroke="none" stroke-width="1"/>
<rect x="453.00" y="165.15" width="3.70" height="3.70" fill="#89b5da" stroke="none" stroke-width="1"/>
<rect x="457.85" y="165.65" width="3.70" height="3.70" fill="#89b5da" stroke="none" stroke-width="1"/>
<rect x="462.70" y="165.85" width="3.70" height="3.70" fill="#89b5da" stroke="none" stroke-width="1"/>
<rect x="467.55" y="166.65" width="3.70" height="3.70" fill="#89b5da" stroke="none" stroke-width="1"/>
<rect x="472.40" y="167.35" width="3.70" height="3.70" fill="#89b5da" stroke="none" stroke-width="1"/>
<rect x="477.25" y="169.15" width="3.70" height="3.70" fill="#89b5da" stroke="none" stroke-width="1"/>
<rect x="482.10" y="172.95" width="3.70" height="3.70" fill="#89b5da" stroke="none" stroke-width="1"/>
<rect x="486.95" y="178.05" width="3.70" height="3.70" fill="#89b5da" stroke="none" stroke-width="1"/>
<rect x="491.80" y="186.15" width="3.70" height="3.70" fill="#89b5da" stroke="none" stroke-width="1"/>
<rect x="496.65" y="193.95" width="3.70" height="3.70" fill="#89b5da" stroke="none" stroke-width="1"/>
<rect x="501.50" y="202.95" width="3.70" height="3.70" fill="#89b5da" stroke="none" stroke-width="1"/>
<rect x="506.35" y="212.05" width="3.70" height="3.70" fill="#1f3d5c" stroke="none" stroke-width="1"/>
<rect x="511.20" y="222.65" width="3.70" height="3.70" fill="#89b5da" stroke="none" stroke-width="1"/>
<circle cx="450.00" cy="196.40" r="2.20" fill="none" stroke="#89b5da" stroke-width="0.95"/>
<circle cx="454.85" cy="198.40" r="2.20" fill="none" stroke="#89b5da" stroke-width="0.95"/>
<circle cx="459.70" cy="197.60" r="2.20" fill="none" stroke="#89b5da" stroke-width="0.95"/>
<circle cx="464.55" cy="196.70" r="2.20" fill="none" stroke="#89b5da" stroke-width="0.95"/>
<circle cx="469.40" cy="196.40" r="2.20" fill="none" stroke="#89b5da" stroke-width="0.95"/>
<circle cx="474.25" cy="196.50" r="2.20" fill="none" stroke="#89b5da" stroke-width="0.95"/>
<circle cx="479.10" cy="200.10" r="2.20" fill="none" stroke="#89b5da" stroke-width="0.95"/>
<circle cx="483.95" cy="201.80" r="2.20" fill="none" stroke="#89b5da" stroke-width="0.95"/>
<circle cx="488.80" cy="201.80" r="2.20" fill="none" stroke="#89b5da" stroke-width="0.95"/>
<circle cx="493.65" cy="204.80" r="2.20" fill="none" stroke="#89b5da" stroke-width="0.95"/>
<circle cx="498.50" cy="211.50" r="2.20" fill="none" stroke="#89b5da" stroke-width="0.95"/>
<circle cx="503.35" cy="220.30" r="2.20" fill="none" stroke="#89b5da" stroke-width="0.95"/>
<circle cx="508.20" cy="229.80" r="2.20" fill="none" stroke="#1f3d5c" stroke-width="1.15"/>
<circle cx="513.05" cy="239.30" r="2.20" fill="none" stroke="#89b5da" stroke-width="0.95"/>
<circle cx="450.00" cy="224.50" r="2.20" fill="none" stroke="#e88080" stroke-width="0.95"/>
<circle cx="454.85" cy="219.90" r="2.20" fill="none" stroke="#e88080" stroke-width="0.95"/>
<circle cx="459.70" cy="215.50" r="2.20" fill="none" stroke="#e88080" stroke-width="0.95"/>
<circle cx="464.55" cy="208.20" r="2.20" fill="none" stroke="#e88080" stroke-width="0.95"/>
<circle cx="469.40" cy="201.40" r="2.20" fill="none" stroke="#e88080" stroke-width="0.95"/>
<circle cx="474.25" cy="195.90" r="2.20" fill="none" stroke="#e88080" stroke-width="0.95"/>
<circle cx="479.10" cy="191.50" r="2.20" fill="none" stroke="#e88080" stroke-width="0.95"/>
<circle cx="483.95" cy="189.60" r="2.20" fill="none" stroke="#e88080" stroke-width="0.95"/>
<circle cx="488.80" cy="187.70" r="2.20" fill="none" stroke="#e88080" stroke-width="0.95"/>
<circle cx="493.65" cy="187.00" r="2.20" fill="none" stroke="#e88080" stroke-width="0.95"/>
<circle cx="498.50" cy="189.30" r="2.20" fill="none" stroke="#e88080" stroke-width="0.95"/>
<circle cx="503.35" cy="191.80" r="2.20" fill="none" stroke="#e88080" stroke-width="0.95"/>
<circle cx="508.20" cy="195.00" r="2.20" fill="none" stroke="#bf1a2a" stroke-width="1.15"/>
<circle cx="513.05" cy="198.30" r="2.20" fill="none" stroke="#e88080" stroke-width="0.95"/>
<text x="436.0" y="240.9" font-size="6.6" fill="#1e1e1e" stroke="#1e1e1e" stroke-width="0.2">G<tspan font-size="4.4" dy="-2.4">'</tspan><tspan font-size="4.2" dy="3.8">solid</tspan></text>
<text x="461.8" y="240.9" font-size="6.6" fill="#1e1e1e" stroke="#1e1e1e" stroke-width="0.2">G<tspan font-size="4.4" dy="-2.4">"</tspan><tspan font-size="4.2" dy="3.8">solid</tspan></text>
<text x="488.5" y="240.9" font-size="6.6" fill="#1e1e1e" stroke="#1e1e1e" stroke-width="0.2">G<tspan font-size="4.4" dy="-2.4">"</tspan><tspan font-size="4.2" dy="3.8">fluid</tspan></text>
<rect x="452.85" y="237.25" width="3.70" height="3.70" fill="#89b5da" stroke="none" stroke-width="1"/>
<circle cx="482.30" cy="239.10" r="2.20" fill="none" stroke="#89b5da" stroke-width="0.95"/>
<circle cx="507.60" cy="239.10" r="2.20" fill="none" stroke="#e88080" stroke-width="0.95"/>
</svg>
</body></html>
